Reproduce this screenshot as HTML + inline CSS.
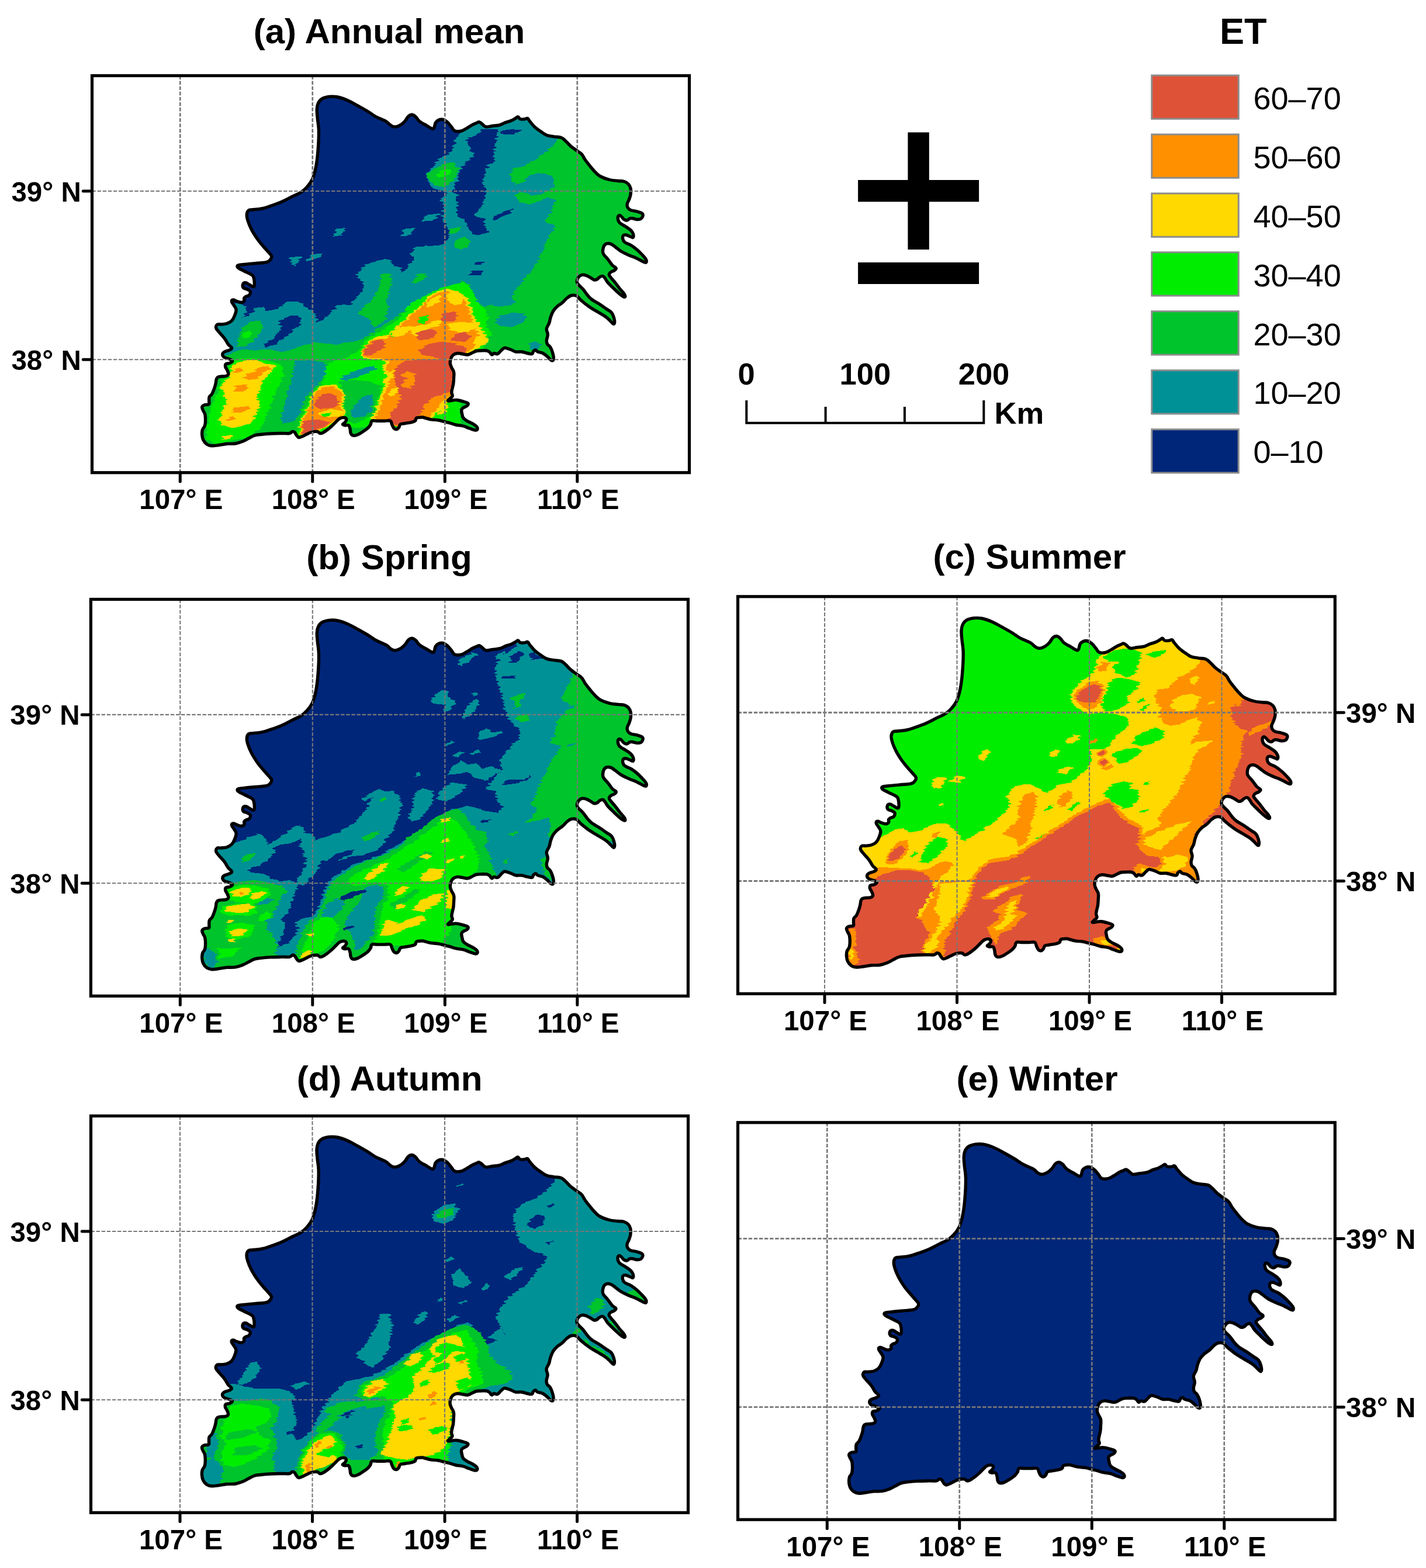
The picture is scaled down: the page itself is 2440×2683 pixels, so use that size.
<!DOCTYPE html>
<html lang="en">
<head>
<meta charset="utf-8">
<title>ET seasonal maps</title>
<style>
html,body{margin:0;padding:0;background:#fff;}
body{width:2440px;height:2683px;overflow:hidden;}
svg{display:block;}
text{font-family:"Liberation Sans", Arial, Helvetica, sans-serif;fill:#000;}
.tk{font-size:47.5px;font-weight:bold;}
.ti{font-size:60px;font-weight:bold;}
.lt{font-size:63px;font-weight:bold;}
.ll{font-size:54px;}
.sb{font-size:52.5px;font-weight:bold;}
.pm{font-size:411.9px;font-weight:normal;stroke:#000;stroke-width:6.85px;stroke-linejoin:miter;}
</style>
</head>
<body>
<svg width="2440" height="2683" viewBox="0 0 2440 2683" role="img" aria-label="Seasonal ET maps">
<defs>
<path id="outlinePath" d="M234.0,-139.5C234.2,-144.5 234.2,-145.9 235.8,-149.5C237.3,-153.1 238.2,-155.1 242.0,-157.5C245.8,-159.9 249.0,-160.8 254.5,-161.5C260.0,-162.2 263.0,-162.3 269.5,-161.0C276.0,-159.7 280.0,-158.1 287.0,-155.0C294.0,-151.9 297.5,-149.6 304.5,-145.8C311.5,-141.9 316.0,-139.4 322.0,-135.8C328.0,-132.1 328.5,-130.8 334.5,-127.5C340.5,-124.2 347.0,-122.3 352.0,-119.5C357.0,-116.7 356.5,-115.2 359.5,-113.2C362.5,-111.3 363.5,-110.0 367.0,-110.0C370.5,-110.0 373.5,-111.3 377.0,-113.2C380.5,-115.2 381.8,-116.5 384.5,-119.5C387.2,-122.5 388.2,-126.0 390.8,-128.2C393.2,-130.5 394.5,-131.0 397.0,-130.8C399.5,-130.5 400.8,-129.2 403.2,-127.0C405.8,-124.8 405.8,-122.5 409.5,-119.5C413.2,-116.5 417.8,-114.5 422.0,-112.0C426.2,-109.5 428.2,-107.8 430.8,-107.0C433.2,-106.2 433.2,-106.2 434.5,-108.2C435.8,-110.2 435.5,-114.3 437.0,-117.0C438.5,-119.7 439.5,-120.4 442.0,-121.5C444.5,-122.6 446.5,-123.2 449.5,-122.5C452.5,-121.8 454.0,-120.8 457.0,-118.2C460.0,-115.7 462.0,-112.5 464.5,-109.5C467.0,-106.5 466.5,-104.7 469.5,-103.2C472.5,-101.8 475.5,-101.8 479.5,-102.5C483.5,-103.2 485.5,-104.8 489.5,-107.0C493.5,-109.2 496.0,-111.3 499.5,-113.2C503.0,-115.2 504.5,-115.5 507.0,-116.5C509.5,-117.5 510.0,-118.7 512.0,-118.2C514.0,-117.8 514.8,-116.2 517.0,-114.5C519.2,-112.8 519.8,-110.6 523.2,-110.0C526.8,-109.4 529.8,-110.8 534.5,-111.5C539.2,-112.2 542.5,-112.0 547.0,-113.2C551.5,-114.5 553.0,-116.0 557.0,-117.5C561.0,-119.0 563.5,-119.2 567.0,-120.8C570.5,-122.2 572.2,-123.8 574.5,-125.0C576.8,-126.2 576.8,-127.3 578.2,-127.0C579.8,-126.7 579.8,-124.0 582.0,-123.2C584.2,-122.5 587.0,-123.0 589.5,-123.2C592.0,-123.5 592.8,-125.2 594.5,-124.5C596.2,-123.8 595.8,-122.5 598.2,-119.5C600.8,-116.5 603.2,-113.0 607.0,-109.5C610.8,-106.0 613.0,-104.8 617.0,-102.0C621.0,-99.2 622.5,-97.5 627.0,-95.8C631.5,-94.0 634.5,-94.1 639.5,-93.2C644.5,-92.4 648.0,-93.0 652.0,-91.5C656.0,-90.0 656.2,-88.7 659.5,-85.8C662.8,-82.8 664.5,-80.2 668.2,-77.0C672.0,-73.8 674.5,-72.2 678.2,-69.5C682.0,-66.8 684.0,-66.5 687.0,-63.2C690.0,-60.0 690.2,-57.5 693.2,-53.2C696.2,-49.0 698.5,-46.2 702.0,-42.0C705.5,-37.8 707.2,-35.4 710.8,-32.0C714.2,-28.6 714.8,-27.5 719.5,-25.0C724.2,-22.5 728.5,-21.0 734.5,-19.5C740.5,-18.0 744.5,-18.1 749.5,-17.5C754.5,-16.9 756.0,-17.6 759.5,-16.5C763.0,-15.4 764.8,-14.4 767.0,-12.0C769.2,-9.6 770.0,-8.0 770.8,-4.5C771.5,-1.0 771.2,1.8 770.8,5.5C770.2,9.2 769.4,11.0 768.2,14.2C767.1,17.5 765.5,19.0 765.0,21.8C764.5,24.5 764.6,25.9 765.8,28.0C766.9,30.1 767.5,31.1 770.8,32.5C774.0,33.9 778.0,33.8 782.0,35.0C786.0,36.2 788.9,36.9 790.8,38.5C792.6,40.1 792.0,41.2 791.5,43.0C791.0,44.8 790.1,46.4 788.2,47.5C786.4,48.6 784.8,48.6 782.0,48.5C779.2,48.4 777.0,47.1 774.5,46.8C772.0,46.4 771.5,46.1 769.5,46.8C767.5,47.4 766.5,49.6 764.5,50.0C762.5,50.4 761.5,49.9 759.5,48.5C757.5,47.1 756.2,44.4 754.5,43.0C752.8,41.6 751.9,41.0 750.8,41.8C749.6,42.5 748.8,44.2 749.0,46.8C749.2,49.2 749.4,51.5 752.0,54.2C754.6,57.0 758.2,58.0 762.0,60.5C765.8,63.0 768.1,64.2 770.8,66.8C773.4,69.2 774.1,70.5 775.0,73.0C775.9,75.5 775.9,78.2 775.0,79.2C774.1,80.2 773.1,78.8 770.8,78.0C768.4,77.2 765.8,75.4 763.2,75.0C760.8,74.6 759.4,74.7 758.2,76.0C757.1,77.3 757.0,79.5 757.5,81.8C758.0,84.0 757.9,85.2 760.8,87.5C763.6,89.8 767.8,90.4 772.0,93.0C776.2,95.6 778.2,97.2 782.0,100.5C785.8,103.8 787.8,106.0 790.8,109.2C793.8,112.5 795.6,114.2 797.0,116.8C798.4,119.2 798.0,120.8 797.5,121.8C797.0,122.8 796.6,122.5 794.5,121.8C792.4,121.0 790.0,119.5 787.0,118.0C784.0,116.5 783.5,116.0 779.5,114.2C775.5,112.5 772.0,111.5 767.0,109.2C762.0,107.0 759.0,105.8 754.5,103.0C750.0,100.2 748.0,98.0 744.5,95.5C741.0,93.0 740.0,91.6 737.0,90.5C734.0,89.4 731.9,89.2 729.5,90.0C727.1,90.8 726.2,91.9 725.0,94.2C723.8,96.6 723.4,99.0 723.2,101.8C723.1,104.5 722.8,105.0 724.5,108.0C726.2,111.0 729.0,113.0 732.0,116.8C735.0,120.5 736.8,123.8 739.5,126.8C742.2,129.8 745.0,130.0 745.8,131.8C746.5,133.5 745.0,134.2 743.2,135.5C741.5,136.8 738.9,137.0 737.0,138.5C735.1,140.0 734.0,141.1 734.0,143.0C734.0,144.9 734.9,145.2 737.0,148.0C739.1,150.8 741.5,153.0 744.5,156.8C747.5,160.5 749.0,163.0 752.0,166.8C755.0,170.5 757.6,172.8 759.5,175.5C761.4,178.2 761.8,179.5 761.5,180.5C761.2,181.5 760.1,181.4 758.2,180.5C756.4,179.6 755.2,178.8 752.0,176.0C748.8,173.2 746.0,170.6 742.0,166.8C738.0,162.9 735.0,160.2 732.0,156.8C729.0,153.2 728.8,151.5 727.0,149.2C725.2,147.0 725.0,146.0 723.2,145.5C721.5,145.0 720.2,145.7 718.2,146.8C716.2,147.8 715.2,150.0 713.2,151.0C711.2,152.0 710.5,152.3 708.2,151.8C706.0,151.2 704.8,149.5 702.0,148.0C699.2,146.5 697.5,145.2 694.5,144.2C691.5,143.3 689.8,142.7 687.0,143.5C684.2,144.3 682.4,146.1 680.8,148.5C679.1,150.9 678.8,153.1 679.0,155.5C679.2,157.9 679.9,158.0 682.0,160.5C684.1,163.0 686.5,164.5 689.5,168.0C692.5,171.5 694.0,174.5 697.0,178.0C700.0,181.5 700.5,182.5 704.5,185.5C708.5,188.5 712.0,189.8 717.0,193.0C722.0,196.2 725.2,198.8 729.5,201.8C733.8,204.8 735.6,204.8 738.2,208.0C740.9,211.2 741.5,214.5 742.5,218.0C743.5,221.5 743.6,223.8 743.2,225.5C742.9,227.2 742.5,227.8 740.8,226.8C739.0,225.8 737.2,223.0 734.5,220.5C731.8,218.0 731.0,217.0 727.0,214.2C723.0,211.5 719.5,209.8 714.5,206.8C709.5,203.8 706.5,202.2 702.0,199.2C697.5,196.2 695.5,194.5 692.0,191.8C688.5,189.0 687.2,188.0 684.5,185.5C681.8,183.0 681.2,180.7 678.2,179.2C675.2,177.8 672.8,177.8 669.5,178.5C666.2,179.2 665.0,180.6 662.0,183.0C659.0,185.4 658.0,187.5 654.5,190.5C651.0,193.5 647.8,195.0 644.5,198.0C641.2,201.0 640.4,202.0 638.2,205.5C636.1,209.0 635.4,211.5 634.0,215.5C632.6,219.5 632.9,221.5 631.5,225.5C630.1,229.5 627.5,231.5 627.0,235.5C626.5,239.5 629.0,241.5 629.0,245.5C629.0,249.5 627.1,252.2 627.0,255.5C626.9,258.8 627.0,259.5 628.2,261.8C629.5,264.0 631.5,264.0 633.2,266.8C635.0,269.5 635.9,272.0 637.0,275.5C638.1,279.0 638.8,281.5 639.0,284.2C639.2,287.0 639.1,288.2 638.2,289.2C637.4,290.2 636.5,290.5 634.5,289.2C632.5,288.0 631.0,285.4 628.2,283.0C625.5,280.6 624.0,279.1 620.8,277.5C617.5,275.9 614.5,276.1 612.0,275.0C609.5,273.9 609.8,271.9 608.2,271.8C606.8,271.6 605.8,272.9 604.5,274.2C603.2,275.6 604.0,277.9 602.0,278.5C600.0,279.1 598.0,278.2 594.5,277.5C591.0,276.8 588.5,275.5 584.5,275.0C580.5,274.5 578.0,275.6 574.5,275.0C571.0,274.4 570.0,272.9 567.0,271.8C564.0,270.6 562.0,269.9 559.5,269.2C557.0,268.6 556.5,267.9 554.5,268.5C552.5,269.1 551.8,270.5 549.5,272.5C547.2,274.5 545.8,277.5 543.2,278.5C540.8,279.5 539.0,277.2 537.0,277.5C535.0,277.8 534.8,280.4 533.2,280.0C531.8,279.6 531.2,276.9 529.5,275.5C527.8,274.1 527.5,273.5 524.5,273.0C521.5,272.5 518.0,272.9 514.5,273.0C511.0,273.1 510.0,272.8 507.0,273.5C504.0,274.2 502.5,275.4 499.5,276.8C496.5,278.1 495.5,279.6 492.0,280.0C488.5,280.4 485.5,279.0 482.0,278.5C478.5,278.0 477.5,277.1 474.5,277.5C471.5,277.9 469.2,278.6 467.0,280.5C464.8,282.4 464.2,283.9 463.2,286.8C462.2,289.6 461.8,291.4 462.0,294.5C462.2,297.6 463.2,299.0 464.5,302.0C465.8,305.0 467.5,306.0 468.2,309.5C469.0,313.0 468.4,315.5 468.2,319.5C468.1,323.5 468.0,326.0 467.5,329.5C467.0,333.0 466.4,334.0 465.8,337.0C465.1,340.0 464.5,341.8 464.5,344.5C464.5,347.2 466.5,348.5 465.8,350.8C465.0,353.0 462.2,354.1 460.8,355.8C459.2,357.4 457.5,358.5 458.2,359.0C459.0,359.5 461.5,358.6 464.5,358.2C467.5,357.9 469.2,357.1 473.2,357.5C477.2,357.9 480.6,358.9 484.5,360.0C488.4,361.1 491.2,361.8 492.5,363.2C493.8,364.8 492.4,366.0 490.8,367.5C489.1,369.0 486.4,369.4 484.5,370.8C482.6,372.1 481.9,372.2 481.5,374.5C481.1,376.8 481.9,379.2 482.5,382.0C483.1,384.8 482.9,386.0 484.5,388.2C486.1,390.5 487.5,391.2 490.8,393.2C494.0,395.2 497.4,396.2 500.8,398.2C504.1,400.2 506.0,401.2 507.5,403.2C509.0,405.2 508.9,407.1 508.2,408.2C507.6,409.4 507.2,409.5 504.5,409.0C501.8,408.5 498.5,407.1 494.5,405.8C490.5,404.4 489.0,403.1 484.5,402.0C480.0,400.9 476.5,401.0 472.0,400.0C467.5,399.0 466.0,398.1 462.0,397.0C458.0,395.9 456.0,395.5 452.0,394.5C448.0,393.5 446.5,392.8 442.0,392.0C437.5,391.2 434.5,391.6 429.5,390.8C424.5,389.9 420.0,388.2 417.0,387.5C414.0,386.8 417.0,386.9 414.5,387.0C412.0,387.1 407.0,387.0 404.5,388.2C402.0,389.5 404.0,391.8 402.0,393.2C400.0,394.8 398.0,394.9 394.5,395.8C391.0,396.6 388.0,396.9 384.5,397.5C381.0,398.1 379.0,397.7 377.0,399.0C375.0,400.3 375.8,402.3 374.5,404.0C373.2,405.7 372.5,407.1 370.8,407.5C369.0,407.9 367.4,407.4 365.8,405.8C364.1,404.1 363.8,402.0 362.5,399.5C361.2,397.0 362.1,394.5 359.5,393.2C356.9,392.0 354.0,393.2 349.5,393.2C345.0,393.2 341.2,393.2 337.0,393.2C332.8,393.2 330.5,392.0 328.2,393.2C326.0,394.5 327.2,397.0 325.8,399.5C324.2,402.0 323.5,403.2 320.8,405.8C318.0,408.2 315.5,409.8 312.0,412.0C308.5,414.2 306.5,415.8 303.2,417.0C300.0,418.2 298.0,418.8 295.8,418.2C293.5,417.8 293.0,416.8 292.0,414.5C291.0,412.2 291.5,409.8 290.8,407.0C290.0,404.2 290.0,402.0 288.2,400.8C286.5,399.5 284.0,401.1 282.0,400.8C280.0,400.4 278.2,400.0 278.2,399.0C278.2,398.0 280.8,397.4 282.0,395.8C283.2,394.1 284.8,392.4 284.5,390.8C284.2,389.1 283.0,387.9 280.8,387.5C278.5,387.1 276.0,387.6 273.2,389.0C270.5,390.4 269.8,391.9 267.0,394.5C264.2,397.1 262.5,399.2 259.5,402.0C256.5,404.8 255.0,406.0 252.0,408.2C249.0,410.5 247.0,412.0 244.5,413.2C242.0,414.5 241.5,414.9 239.5,414.5C237.5,414.1 237.5,411.9 234.5,411.5C231.5,411.1 228.0,411.6 224.5,412.5C221.0,413.4 220.0,414.4 217.0,415.8C214.0,417.1 212.2,418.4 209.5,419.5C206.8,420.6 205.2,421.8 203.2,421.5C201.2,421.2 201.0,420.1 199.5,418.2C198.0,416.4 197.2,413.9 195.8,412.5C194.2,411.1 193.8,411.1 192.0,411.5C190.2,411.9 190.5,413.9 187.0,414.5C183.5,415.1 181.0,414.4 174.5,414.5C168.0,414.6 162.0,414.6 154.5,415.0C147.0,415.4 142.5,415.9 137.0,416.5C131.5,417.1 131.0,416.9 127.0,418.2C123.0,419.6 121.0,421.2 117.0,423.2C113.0,425.2 111.5,426.5 107.0,428.2C102.5,430.0 100.0,431.1 94.5,432.0C89.0,432.9 85.0,432.0 79.5,432.5C74.0,433.0 72.0,433.9 67.0,434.5C62.0,435.1 58.8,436.0 54.5,435.8C50.2,435.5 48.8,435.2 45.8,433.2C42.8,431.2 41.1,429.0 39.5,425.8C37.9,422.5 37.8,420.5 37.5,417.0C37.2,413.5 37.4,411.2 38.2,408.2C39.1,405.2 41.0,404.8 42.0,402.0C43.0,399.2 43.1,398.5 43.2,394.5C43.4,390.5 43.2,385.8 42.5,382.0C41.8,378.2 40.5,378.2 39.5,375.8C38.5,373.2 37.0,371.5 37.5,369.5C38.0,367.5 39.7,366.6 42.0,365.8C44.3,364.9 47.5,366.2 49.0,365.0C50.5,363.8 49.3,362.1 49.5,359.5C49.7,356.9 49.0,354.5 50.0,352.0C51.0,349.5 52.9,349.8 54.5,347.0C56.1,344.2 57.0,341.8 58.2,338.2C59.5,334.8 59.9,333.0 60.8,329.5C61.6,326.0 61.2,323.1 62.5,320.8C63.8,318.4 63.9,318.4 67.0,317.5C70.2,316.6 75.2,317.4 78.2,316.5C81.3,315.6 82.0,315.1 82.5,313.2C83.0,311.4 81.8,309.5 80.8,307.0C79.8,304.5 78.0,303.0 77.5,300.8C77.0,298.5 76.8,297.0 78.2,295.8C79.7,294.5 82.2,295.5 84.5,294.5C86.8,293.5 89.5,292.1 89.5,290.8C89.5,289.4 87.2,288.8 84.5,287.5C81.8,286.2 78.2,286.1 75.8,284.5C73.3,282.9 72.5,281.4 72.5,279.5C72.5,277.6 73.3,276.5 75.8,275.0C78.2,273.5 82.0,273.4 84.5,272.0C87.0,270.6 88.8,270.3 88.2,268.2C87.8,266.2 84.5,265.1 82.0,261.8C79.5,258.4 78.8,255.8 75.8,251.8C72.8,247.8 69.8,245.2 67.0,241.8C64.2,238.2 62.2,236.9 61.5,234.2C60.8,231.6 61.6,229.8 63.2,228.5C64.8,227.2 66.2,228.3 69.5,228.0C72.8,227.7 75.8,228.0 79.5,226.8C83.2,225.5 85.5,224.5 88.2,221.8C91.0,219.0 91.8,216.8 93.2,213.0C94.8,209.2 96.0,206.5 95.8,203.0C95.5,199.5 93.5,198.2 92.0,195.5C90.5,192.8 88.5,191.2 88.2,189.2C88.0,187.3 89.0,186.2 90.8,186.0C92.5,185.8 94.2,187.6 97.0,188.5C99.8,189.4 102.0,190.6 104.5,190.5C107.0,190.4 108.5,189.5 109.5,188.0C110.5,186.5 108.8,184.6 109.5,183.0C110.2,181.4 111.5,181.0 113.2,180.0C115.0,179.0 116.9,179.7 118.2,178.0C119.6,176.3 120.8,173.8 120.0,171.8C119.2,169.8 116.8,169.2 114.5,168.0C112.2,166.8 109.7,167.2 108.2,165.5C106.8,163.8 106.8,161.0 107.5,159.2C108.2,157.5 109.8,156.6 112.0,156.8C114.2,156.9 115.8,158.7 118.2,160.0C120.8,161.3 122.8,163.4 124.5,163.5C126.2,163.6 126.8,163.6 127.0,160.5C127.2,157.4 126.8,151.5 125.8,148.0C124.8,144.5 125.2,145.2 122.0,143.0C118.8,140.8 114.1,139.2 109.5,136.8C104.9,134.3 101.0,133.0 99.0,131.0C97.0,129.0 97.4,127.8 99.5,126.8C101.6,125.7 103.5,126.2 109.5,125.5C115.5,124.8 122.0,124.2 129.5,123.5C137.0,122.8 142.2,122.8 147.0,121.8C151.8,120.8 151.3,120.5 153.2,118.5C155.2,116.5 156.8,114.3 156.5,111.8C156.2,109.2 154.9,109.0 152.0,105.5C149.1,102.0 146.0,99.0 142.0,94.2C138.0,89.5 136.0,87.5 132.0,81.8C128.0,76.0 125.2,71.8 122.0,65.5C118.8,59.2 117.3,55.5 115.8,50.5C114.2,45.5 113.8,44.0 114.0,40.5C114.2,37.0 114.9,34.8 117.0,33.0C119.1,31.2 120.0,32.4 124.5,31.8C129.0,31.1 133.5,31.2 139.5,30.0C145.5,28.8 147.5,27.9 154.5,25.5C161.5,23.1 167.0,21.2 174.5,18.0C182.0,14.8 185.5,12.5 192.0,9.2C198.5,6.0 202.0,5.0 207.0,1.8C212.0,-1.5 213.2,-2.8 217.0,-7.0C220.8,-11.2 223.0,-14.0 225.8,-19.5C228.5,-25.0 229.1,-28.0 230.8,-34.5C232.4,-41.0 233.0,-45.0 234.0,-52.0C235.0,-59.0 235.2,-62.0 235.8,-69.5C236.3,-77.0 236.8,-82.0 237.0,-89.5C237.2,-97.0 237.4,-100.0 237.0,-107.0C236.6,-114.0 235.6,-118.0 235.0,-124.5C234.4,-131.0 233.8,-134.5 234.0,-139.5Z"/>
<clipPath id="clipOutline"><use href="#outlinePath"/></clipPath>
<filter id="rough" filterUnits="userSpaceOnUse" x="-20" y="-220" width="880" height="720" color-interpolation-filters="sRGB">
<feTurbulence type="fractalNoise" baseFrequency="0.035 0.33" numOctaves="1" seed="7" result="n"/>
<feColorMatrix in="n" type="matrix" values="1 0 0 0 0  0 0 0 0 0.5  0 0 0 0 0.5  0 0 0 0 1" result="nx"/>
<feDisplacementMap in="SourceGraphic" in2="nx" scale="16" xChannelSelector="R" yChannelSelector="G"/>
</filter>
</defs>
<rect width="2440" height="2683" fill="#fff"/>
<g id="panel-a">
<g transform="translate(308.25,327.00)">
<g clip-path="url(#clipOutline)">
<rect x="0" y="-200" width="840" height="680" fill="#00267a"/>
<g filter="url(#rough)" shape-rendering="crispEdges">
<rect x="-20" y="-220" width="880" height="720" fill="#00267a"/>
<path d="M84.2,190.5 L109.2,194.2 L114.2,205.5 L105.5,216.8 L119.2,211.8 L129.2,200.5 L141.8,198.0 L149.2,205.5 L161.8,203.0 L174.2,196.8 L184.2,189.2 L196.8,188.5 L206.8,191.8 L216.8,199.2 L226.8,205.5 L234.2,215.5 L233.0,225.5 L244.2,219.2 L254.2,211.8 L261.8,203.0 L271.8,195.5 L284.2,194.2 L291.8,195.5 L298.0,184.2 L306.8,176.8 L313.0,170.5 L314.2,160.5 L309.2,151.8 L300.5,143.0 L309.2,136.8 L315.5,126.8 L325.5,121.8 L339.2,119.2 L351.8,116.0 L359.2,118.0 L366.8,128.0 L379.2,131.0 L376.8,139.2 L386.8,135.5 L391.8,124.2 L401.8,116.8 L393.0,106.8 L404.2,98.0 L419.2,92.5 L431.8,96.8 L446.8,91.8 L458.0,83.0 L461.8,73.0 L456.8,60.5 L448.0,48.0 L451.8,23.0 L446.8,13.0 L456.8,3.0 L444.2,-2.0 L431.8,-4.5 L424.2,-17.0 L419.2,-27.0 L429.2,-37.0 L436.8,-49.5 L449.2,-59.5 L459.2,-63.2 L466.8,-72.0 L470.5,-84.5 L475.5,-94.5 L476.8,-102.0 L474.2,-127.0 L900.0,-250.0 L900.0,520.0 L-50.0,520.0 L-50.0,190.0Z" fill="#009196"/>
<path d="M514.2,-105.8 L544.2,-105.8 L541.8,-94.5 L539.2,-77.0 L535.5,-59.5 L539.2,-52.0 L526.8,-44.5 L521.8,-27.0 L516.8,-12.0 L524.2,-2.0 L521.8,13.0 L516.8,23.0 L509.2,35.5 L504.2,43.0 L521.8,48.0 L519.2,58.0 L526.8,70.5 L511.8,75.5 L501.8,73.0 L491.8,60.5 L486.8,48.0 L474.2,43.0 L474.2,23.0 L474.2,8.0 L466.8,-2.0 L474.2,-17.0 L479.2,-37.0 L491.8,-52.0 L504.2,-59.5 L496.8,-69.5 L491.8,-87.0 L504.2,-94.5 L514.2,-99.5Z" fill="#00267a"/>
<path d="M531.8,48.0 L541.8,40.5 L554.2,35.5 L569.2,29.2 L564.2,38.0 L551.8,44.2 L539.2,50.5Z" fill="#00267a"/>
<path d="M546.8,-102.0 L566.8,-105.8 L581.8,-104.5 L571.8,-97.0 L554.2,-97.0Z" fill="#00267a"/>
<path d="M491.8,-92.0 L521.8,-93.2 L516.8,-84.5 L489.2,-83.2Z" fill="#00267a"/>
<path d="M496.8,136.8 L519.2,135.5 L514.2,144.2 L495.5,144.2Z" fill="#00267a"/>
<path d="M504.2,121.8 L519.2,120.5 L515.5,125.5 L503.0,126.0Z" fill="#00267a"/>
<path d="M171.8,220.5 L186.8,213.0 L201.8,213.0 L208.0,220.5 L204.2,230.5 L191.8,238.0 L184.2,248.0 L171.8,255.5 L161.8,263.0 L146.8,268.0 L144.2,263.0 L156.8,253.0 L166.8,243.0 L174.2,233.0 L169.2,225.5Z" fill="#00267a"/>
<path d="M269.2,64.2 L283.0,63.0 L276.8,75.5 L261.8,78.0Z" fill="#009196"/>
<path d="M383.0,64.2 L403.0,63.0 L389.2,76.8 L378.0,76.8Z" fill="#009196"/>
<path d="M421.8,40.5 L444.2,39.2 L431.8,50.5 L413.0,51.8Z" fill="#009196"/>
<path d="M190.5,113.0 L206.8,111.8 L196.8,129.2 L188.0,120.5Z" fill="#009196"/>
<path d="M226.8,108.0 L244.2,106.8 L234.2,115.5 L213.0,120.5Z" fill="#009196"/>
<path d="M424.2,40.5 L441.8,38.0 L429.2,50.5 L413.0,51.8Z" fill="#009196"/>
<path d="M401.8,95.5 L441.8,93.0 L431.8,105.5 L399.2,108.0Z" fill="#009196"/>
<path d="M649.2,-94.5 L641.8,-82.0 L629.2,-69.5 L616.8,-60.8 L604.2,-52.0 L589.2,-43.2 L571.8,-39.5 L564.2,-29.5 L566.8,-17.0 L576.8,-10.8 L589.2,-17.0 L599.2,-27.0 L611.8,-30.8 L626.8,-29.5 L639.2,-22.0 L641.8,-12.0 L631.8,-2.0 L616.8,5.5 L604.2,8.0 L591.8,3.0 L579.2,1.8 L571.8,9.2 L584.2,19.2 L599.2,23.0 L614.2,16.8 L629.2,10.5 L641.8,14.2 L638.0,28.0 L631.8,40.5 L623.0,53.0 L641.8,59.2 L633.0,73.0 L625.5,88.0 L620.5,103.0 L614.2,118.0 L604.2,133.0 L591.8,146.8 L581.8,159.2 L571.8,171.8 L566.8,183.0 L575.5,190.5 L561.8,195.5 L541.8,198.0 L531.8,194.2 L519.2,198.0 L509.2,190.5 L501.8,173.0 L491.8,158.0 L481.8,153.0 L466.8,165.5 L441.8,170.5 L429.2,178.0 L416.8,185.5 L391.8,198.0 L371.8,213.0 L354.2,225.5 L334.2,238.0 L316.8,250.5 L296.8,258.0 L281.8,259.2 L266.8,263.0 L246.8,260.5 L229.2,258.0 L216.8,263.0 L201.8,266.8 L186.8,273.0 L171.8,275.5 L156.8,270.5 L141.8,270.5 L126.8,273.0 L109.2,270.5 L96.8,273.0 L84.2,280.5 L59.2,280.5 L-50.0,330.0 L-50.0,520.0 L900.0,520.0 L900.0,-250.0 L620.0,-250.0Z" fill="#00c42b"/>
<path d="M196.8,290.5 L221.8,289.2 L246.8,293.0 L251.8,303.0 L246.8,315.5 L239.2,328.0 L229.2,338.0 L219.2,348.0 L209.2,360.5 L206.8,373.0 L201.8,385.5 L191.8,395.5 L176.8,398.0 L171.8,388.0 L176.8,373.0 L181.8,358.0 L184.2,343.0 L189.2,328.0 L191.8,313.0 L194.2,300.5Z" fill="#009196"/>
<path d="M274.2,320.5 L291.8,310.5 L311.8,303.0 L331.8,299.2 L334.2,305.5 L316.8,313.0 L296.8,320.5 L281.8,325.5Z" fill="#009196"/>
<path d="M309.2,353.0 L329.2,348.0 L331.8,360.5 L326.8,375.5 L314.2,385.5 L296.8,388.0 L291.8,378.0 L299.2,365.5Z" fill="#009196"/>
<path d="M546.8,213.0 L566.8,208.0 L589.2,209.2 L591.8,218.0 L581.8,228.0 L564.2,233.0 L546.8,230.5 L539.2,223.0Z" fill="#009196"/>
<path d="M596.8,260.5 L609.2,256.8 L618.0,263.0 L611.8,270.5 L599.2,270.5Z" fill="#009196"/>
<path d="M106.8,233.0 L121.8,223.0 L136.8,221.8 L141.8,230.5 L136.8,243.0 L126.8,255.5 L111.8,265.5 L96.8,265.5 L99.2,250.5Z" fill="#00c42b"/>
<path d="M344.2,141.8 L359.2,140.5 L364.2,150.5 L359.2,165.5 L354.2,183.0 L354.2,203.0 L351.8,218.0 L341.8,228.0 L329.2,233.0 L326.8,220.5 L316.8,215.5 L304.2,210.5 L314.2,198.0 L329.2,185.5 L336.8,173.0 L341.8,158.0Z" fill="#00c42b"/>
<path d="M406.8,141.8 L421.8,140.5 L414.2,150.5 L404.2,158.0 L396.8,156.8Z" fill="#00c42b"/>
<path d="M434.2,-37.0 L449.2,-47.0 L466.8,-49.5 L476.8,-39.5 L474.2,-27.0 L464.2,-14.5 L451.8,-7.0 L436.8,-9.5 L424.2,-19.5 L419.2,-27.0Z" fill="#00c42b"/>
<path d="M461.8,64.2 L476.8,60.5 L479.2,68.0 L466.8,73.0 L458.0,71.8Z" fill="#00c42b"/>
<path d="M471.8,83.0 L486.8,78.0 L496.8,85.5 L491.8,95.5 L479.2,100.5 L469.2,93.0Z" fill="#00c42b"/>
<path d="M404.2,145.5 L416.8,140.5 L421.8,145.5 L411.8,155.5 L399.2,158.0Z" fill="#00c42b"/>
<path d="M391.8,193.0 L411.8,183.0 L429.2,173.0 L446.8,165.5 L466.8,160.5 L484.2,155.5 L496.8,165.5 L504.2,180.5 L511.8,195.5 L524.2,203.0 L526.8,218.0 L521.8,233.0 L531.8,243.0 L526.8,258.0 L516.8,270.5 L504.2,280.5 L486.8,285.5 L461.8,285.5 L469.2,323.0 L466.8,350.5 L479.8,363.0 L479.8,398.0 L421.8,398.0 L346.8,400.5 L321.8,403.0 L296.8,405.5 L271.8,398.0 L246.8,413.0 L211.8,423.0 L196.8,418.0 L201.8,403.0 L206.8,388.0 L211.8,373.0 L219.2,360.5 L226.8,343.0 L241.8,333.0 L246.8,318.0 L251.8,298.0 L261.8,290.5 L284.2,285.5 L304.2,273.0 L316.8,255.5 L334.2,245.5 L354.2,233.0 L371.8,220.5 L384.2,208.0Z" fill="#00ed00"/>
<path d="M439.2,-29.5 L451.8,-37.0 L464.2,-37.0 L461.8,-29.5 L451.8,-24.5 L441.8,-24.5Z" fill="#00ed00"/>
<path d="M106.8,243.0 L119.2,239.2 L124.2,245.5 L114.2,251.8 L104.2,250.5Z" fill="#00ed00"/>
<path d="M84.2,290.5 L104.2,285.5 L126.8,285.5 L151.8,290.5 L171.8,295.5 L176.8,310.5 L171.8,328.0 L164.2,343.0 L156.8,358.0 L151.8,373.0 L146.8,388.0 L139.2,403.0 L126.8,415.5 L109.2,423.0 L84.2,428.0 L59.2,433.0 L44.2,423.0 L46.8,398.0 L51.8,373.0 L61.8,348.0 L71.8,323.0 L81.8,303.0Z" fill="#00ed00"/>
<path d="M271.8,325.5 L296.8,323.0 L321.8,325.5 L344.2,333.0 L341.8,348.0 L334.2,365.5 L331.8,380.5 L316.8,390.5 L296.8,398.0 L284.2,393.0 L281.8,378.0 L279.2,360.5 L276.8,343.0Z" fill="#00c42b"/>
<path d="M309.2,353.0 L329.2,348.0 L331.8,360.5 L326.8,375.5 L314.2,385.5 L296.8,388.0 L291.8,378.0 L299.2,365.5Z" fill="#009196"/>
<path d="M274.2,320.5 L291.8,310.5 L311.8,303.0 L331.8,299.2 L334.2,305.5 L316.8,313.0 L296.8,320.5 L281.8,325.5Z" fill="#009196"/>
<path d="M309.2,275.5 L321.8,258.0 L336.8,249.2 L354.2,245.5 L371.8,230.5 L384.2,220.5 L396.8,208.0 L411.8,195.5 L421.8,183.0 L424.2,180.5 L441.8,170.5 L456.8,166.8 L476.8,171.8 L491.8,183.0 L496.8,198.0 L501.8,213.0 L509.2,228.0 L516.8,238.0 L521.8,248.0 L524.2,258.0 L514.2,265.5 L504.2,273.0 L491.8,278.0 L479.2,283.0 L461.8,284.2 L465.5,288.0 L471.8,323.0 L466.8,348.0 L456.8,360.5 L446.8,370.5 L436.8,383.0 L426.8,395.5 L396.8,398.0 L371.8,403.0 L346.8,398.0 L326.8,395.5 L329.2,383.0 L336.8,368.0 L343.0,350.5 L349.2,335.5 L351.8,318.0 L346.8,303.0 L349.2,290.5 L341.8,288.0 L326.8,288.0 L311.8,285.5Z" fill="#ffd900"/>
<path d="M89.2,298.0 L106.8,290.5 L126.8,288.0 L146.8,295.5 L164.2,298.0 L156.8,310.5 L141.8,323.0 L136.8,338.0 L131.8,353.0 L136.8,368.0 L129.2,383.0 L121.8,395.5 L104.2,403.0 L89.2,405.5 L71.8,400.5 L66.8,388.0 L74.2,373.0 L79.2,355.5 L71.8,343.0 L71.8,330.5 L84.2,318.0 L86.8,308.0Z" fill="#ffd900"/>
<path d="M74.2,419.2 L89.2,416.8 L84.2,424.2 L71.8,426.0Z" fill="#ffd900"/>
<path d="M226.8,345.5 L244.2,333.0 L261.8,330.5 L276.8,340.5 L283.0,355.5 L276.8,368.0 L284.2,378.0 L274.2,389.2 L259.2,398.0 L241.8,409.2 L221.8,416.8 L205.5,419.2 L204.2,403.0 L209.2,388.0 L216.8,373.0 L221.8,358.0Z" fill="#ffd900"/>
<path d="M311.8,273.0 L321.8,260.5 L336.8,253.0 L351.8,253.0 L358.0,245.5 L371.8,235.5 L384.2,224.2 L396.8,211.8 L411.8,199.2 L424.2,184.2 L424.2,184.2 L441.8,174.2 L456.8,171.0 L474.2,176.0 L486.8,185.5 L491.8,198.0 L496.8,213.0 L501.8,228.0 L508.0,238.0 L511.8,248.0 L505.5,258.0 L500.5,270.5 L491.8,275.5 L479.2,280.5 L461.8,283.0 L464.2,288.0 L471.8,323.0 L466.8,348.0 L451.8,358.0 L441.8,368.0 L431.8,380.5 L421.8,394.2 L396.8,398.0 L371.8,403.0 L346.8,398.0 L333.0,395.5 L335.5,383.0 L343.0,368.0 L348.0,350.5 L355.5,335.5 L358.0,318.0 L353.0,303.0 L355.5,290.5 L344.2,285.5 L326.8,285.5 L313.0,283.0Z" fill="#ff9100"/>
<path d="M231.8,344.2 L246.8,336.0 L261.8,333.5 L274.2,343.0 L279.2,355.5 L271.8,368.0 L280.5,378.0 L271.8,387.5 L256.8,398.0 L241.8,408.0 L221.8,415.5 L207.2,418.0 L207.2,403.0 L212.2,388.0 L219.8,373.0 L224.8,358.0Z" fill="#ff9100"/>
<path d="M241.8,376.8 L261.8,373.0 L281.8,376.8 L271.8,385.5 L251.8,386.8 L236.8,384.2Z" fill="#ffd900"/>
<path d="M241.8,381.8 L259.2,379.2 L254.2,385.0 L239.2,386.0Z" fill="#00ed00"/>
<path d="M91.8,305.5 L106.8,301.8 L104.2,309.2 L89.2,311.8Z" fill="#ff9100"/>
<path d="M114.2,313.0 L131.8,308.0 L141.8,311.8 L131.8,320.5 L116.8,323.0 L109.2,319.2Z" fill="#ff9100"/>
<path d="M129.2,303.0 L151.8,299.2 L158.0,304.2 L141.8,310.5 L128.0,310.5Z" fill="#ff9100"/>
<path d="M94.2,333.0 L111.8,330.5 L118.0,336.8 L106.8,343.0 L91.8,343.0Z" fill="#ff9100"/>
<path d="M91.8,370.5 L116.8,368.0 L120.5,373.0 L104.2,378.5 L88.0,378.5Z" fill="#ff9100"/>
<path d="M83.0,386.8 L94.2,385.0 L91.8,391.8 L81.2,393.5Z" fill="#ff9100"/>
<path d="M454.2,175.5 L474.2,173.0 L485.5,183.0 L481.8,193.0 L466.8,195.5 L459.2,188.0Z" fill="#ffd900"/>
<path d="M391.8,233.0 L414.2,228.0 L429.2,233.0 L419.2,245.5 L399.2,248.0Z" fill="#ffd900"/>
<path d="M429.2,223.0 L449.2,220.5 L444.2,230.5 L429.2,233.0Z" fill="#ffd900"/>
<path d="M411.8,233.0 L426.8,225.5 L434.2,230.5 L424.2,240.5 L411.8,240.5Z" fill="#ffd900"/>
<path d="M409.2,215.5 L421.8,211.8 L424.2,220.5 L414.2,228.0 L406.8,225.5Z" fill="#00ed00"/>
<path d="M356.8,245.5 L369.2,235.5 L374.2,243.0 L364.2,250.5Z" fill="#00ed00"/>
<path d="M362.2,240.2 L375.2,232.8 L391.9,230.9 L395.6,236.5 L384.5,245.7 L369.7,249.5 L360.4,247.6Z" fill="#ffd900"/>
<path d="M458.7,227.2 L477.2,223.5 L495.8,225.3 L514.3,223.5 L510.6,232.8 L495.8,240.2 L477.2,242.0 L462.4,238.3Z" fill="#ffd900"/>
<path d="M505.1,249.5 L519.9,245.7 L529.2,251.3 L523.6,262.4 L510.6,266.2 L501.4,260.6Z" fill="#ffd900"/>
<path d="M421.6,190.1 L436.4,180.8 L449.4,177.1 L445.7,186.4 L432.7,195.7 L421.6,199.4Z" fill="#ffd900"/>
<path d="M353.0,312.5 L365.9,305.1 L362.2,319.9 L354.8,331.1 L347.4,329.2Z" fill="#ffd900"/>
<path d="M362.2,338.5 L373.4,334.8 L371.5,345.9 L362.2,351.5 L356.7,347.8Z" fill="#ffd900"/>
<path d="M445.7,362.6 L455.0,357.0 L458.7,368.2 L451.3,381.2 L442.0,383.0Z" fill="#ffd900"/>
<path d="M371.8,298.0 L386.8,290.5 L411.8,288.0 L446.8,288.0 L464.2,290.5 L466.8,323.0 L464.2,343.0 L446.8,348.0 L431.8,353.0 L421.8,363.0 L416.8,373.0 L406.8,383.0 L401.8,395.5 L371.8,400.5 L356.8,395.5 L359.2,380.5 L371.8,368.0 L376.8,353.0 L371.8,338.0 L366.8,323.0 L366.8,310.5Z" fill="#de5238"/>
<path d="M376.8,313.0 L391.8,308.0 L401.8,313.0 L401.8,328.0 L391.8,338.0 L379.2,335.5 L381.8,325.5 L389.2,320.5 L381.8,318.0Z" fill="#ff9100"/>
<path d="M329.2,258.0 L346.8,253.0 L351.8,263.0 L341.8,273.0 L326.8,280.5 L314.2,280.5 L316.8,270.5Z" fill="#de5238"/>
<path d="M404.2,243.0 L421.8,238.0 L434.2,243.0 L426.8,253.0 L406.8,255.5Z" fill="#de5238"/>
<path d="M426.8,265.5 L446.8,258.0 L471.8,260.5 L479.8,273.0 L471.8,285.5 L446.8,288.0 L426.8,280.5Z" fill="#de5238"/>
<path d="M446.8,210.5 L466.8,205.5 L476.8,213.0 L466.8,223.0 L449.2,223.0Z" fill="#de5238"/>
<path d="M404.2,243.0 L424.2,235.5 L441.8,240.5 L434.2,250.5 L411.8,253.0Z" fill="#de5238"/>
<path d="M466.8,245.5 L486.8,240.5 L499.2,248.0 L486.8,258.0 L466.8,255.5Z" fill="#de5238"/>
<path d="M421.8,263.0 L441.8,258.0 L466.8,260.5 L491.8,268.0 L486.8,278.0 L466.8,285.5 L441.8,285.5 L416.8,280.5 L406.8,273.0Z" fill="#de5238"/>
<path d="M234.2,353.0 L251.8,345.5 L269.2,350.5 L271.8,363.0 L261.8,370.5 L241.8,373.0 L229.2,368.0Z" fill="#de5238"/>
<path d="M211.8,393.0 L234.2,390.5 L256.8,395.5 L241.8,405.5 L221.8,413.0 L208.0,415.5Z" fill="#de5238"/>
</g>
</g>
<use href="#outlinePath" fill="none" stroke="#000" stroke-width="5.4" stroke-linejoin="round"/>
</g>
<path d="M308.25,129.50V808.70M534.75,129.50V808.70M761.25,129.50V808.70M987.75,129.50V808.70" fill="none" stroke="#777" stroke-width="2.7" stroke-dasharray="6.4 2.7"/>
<path d="M157.50,327.00H1179.50M157.50,615.30H1179.50" fill="none" stroke="#777" stroke-width="2.1" stroke-dasharray="6.4 2.7"/>
<rect x="157.50" y="129.50" width="1022.00" height="679.20" fill="none" stroke="#000" stroke-width="5.2"/>
<path d="M308.25,808.70v15.2M534.75,808.70v15.2M761.25,808.70v15.2M987.75,808.70v15.2M157.50,327.00h-15.2M157.50,615.30h-15.2" fill="none" stroke="#000" stroke-width="5" stroke-linecap="round"/>
<text x="309.8" y="871.1" text-anchor="middle" class="tk">107° E</text>
<text x="536.2" y="871.1" text-anchor="middle" class="tk">108° E</text>
<text x="762.8" y="871.1" text-anchor="middle" class="tk">109° E</text>
<text x="989.2" y="871.1" text-anchor="middle" class="tk">110° E</text>
<text x="138.8" y="344.5" text-anchor="end" class="tk">39° N</text>
<text x="138.8" y="632.8" text-anchor="end" class="tk">38° N</text>
<text x="666.0" y="73.5" text-anchor="middle" class="ti">(a) Annual mean</text>
</g>
<g id="panel-b">
<g transform="translate(308.30,1222.90)">
<g clip-path="url(#clipOutline)">
<rect x="0" y="-200" width="840" height="680" fill="#00267a"/>
<g filter="url(#rough)" shape-rendering="crispEdges">
<rect x="-20" y="-220" width="880" height="720" fill="#00267a"/>
<path d="M46.7,230.6 L64.2,230.6 L84.2,223.1 L104.2,215.6 L121.7,208.1 L134.2,203.1 L144.2,209.3 L151.7,223.1 L171.7,209.3 L191.7,194.3 L201.7,189.3 L212.9,195.6 L214.2,203.1 L205.4,213.1 L194.2,218.1 L176.7,221.8 L161.7,225.6 L161.7,235.6 L151.7,248.1 L134.2,258.1 L112.9,266.8 L126.7,270.6 L146.7,273.1 L156.7,280.6 L171.7,285.6 L186.7,283.1 L201.7,290.6 L196.7,303.1 L191.7,318.1 L186.7,333.1 L181.7,343.1 L171.7,350.6 L181.7,358.1 L176.7,373.1 L169.2,388.1 L166.7,398.1 L184.2,390.6 L196.7,378.1 L201.7,365.6 L196.7,355.6 L211.7,348.1 L226.7,345.6 L236.7,333.1 L241.7,318.1 L246.7,303.1 L251.7,290.6 L261.7,278.1 L281.7,265.6 L296.7,255.6 L321.7,248.1 L346.7,238.1 L371.7,223.1 L396.7,208.1 L421.7,190.6 L446.7,173.1 L466.7,160.6 L476.7,160.6 L491.7,155.6 L516.7,163.1 L541.7,168.1 L551.7,158.1 L541.7,145.6 L539.2,130.6 L521.7,128.1 L531.7,115.6 L541.7,103.1 L551.7,93.1 L546.7,78.1 L556.7,65.6 L566.7,53.1 L579.2,40.6 L581.7,28.1 L571.7,18.1 L561.7,8.1 L556.7,-6.9 L551.7,-21.9 L549.2,-36.9 L544.2,-51.9 L539.2,-66.9 L539.2,-81.9 L546.7,-96.9 L561.7,-106.9 L574.2,-116.9 L576.7,-139.4 L900.0,-250.0 L900.0,520.0 L-50.0,520.0 L-50.0,230.0Z" fill="#009196"/>
<path d="M341.7,131.8 L361.7,130.1 L375.4,139.3 L377.9,155.6 L374.2,173.1 L369.2,185.6 L361.7,200.6 L351.7,213.1 L344.2,225.6 L329.2,235.6 L309.2,240.6 L291.7,243.1 L271.7,249.3 L256.7,251.8 L239.2,248.1 L229.2,238.1 L226.7,223.1 L236.7,213.1 L251.7,208.1 L266.7,203.1 L281.7,195.6 L296.7,185.6 L309.2,173.1 L319.2,160.6 L324.2,148.1 L331.7,138.1Z" fill="#009196"/>
<path d="M211.2,201.2 L226.1,204.9 L237.2,221.6 L235.3,238.3 L244.6,247.6 L237.2,260.6 L229.8,273.6 L218.6,284.7 L207.5,292.1 L196.4,288.4 L203.8,277.3 L211.2,264.3 L214.9,251.3 L211.2,238.3 L205.7,225.3 L207.5,212.3Z" fill="#009196"/>
<path d="M248.3,251.3 L265.0,240.2 L283.6,232.7 L300.3,230.9 L292.8,238.3 L274.3,245.7 L257.6,255.0Z" fill="#00267a"/>
<path d="M309.2,145.6 L321.7,135.6 L344.2,126.8 L346.7,130.6 L329.2,140.6 L314.2,148.1Z" fill="#009196"/>
<path d="M406.7,130.6 L421.7,126.8 L434.2,135.6 L431.7,150.6 L421.7,165.6 L409.2,178.1 L396.7,183.1 L389.2,175.6 L396.7,163.1 L401.7,148.1Z" fill="#009196"/>
<path d="M404.2,99.3 L411.7,98.1 L409.2,104.3 L402.9,105.6Z" fill="#009196"/>
<path d="M429.2,-26.9 L446.7,-41.9 L459.2,-40.7 L456.7,-31.9 L471.7,-21.9 L461.7,-6.9 L449.2,-4.4 L454.2,-16.9 L431.7,-19.4Z" fill="#009196"/>
<path d="M491.7,-16.9 L504.2,-26.9 L511.7,-24.4 L506.7,-6.9 L491.7,3.1 L481.7,8.1 L486.7,-4.4Z" fill="#009196"/>
<path d="M511.7,28.1 L526.7,23.1 L531.7,30.6 L554.2,28.1 L541.7,35.6 L526.7,40.6 L511.7,43.1Z" fill="#009196"/>
<path d="M464.2,70.6 L476.7,63.1 L486.7,64.3 L474.2,73.1Z" fill="#009196"/>
<path d="M496.7,66.8 L511.7,59.3 L514.2,63.1 L501.7,69.3Z" fill="#009196"/>
<path d="M454.2,50.6 L466.7,44.3 L469.2,46.8 L456.7,54.3Z" fill="#009196"/>
<path d="M466.7,88.1 L481.7,78.1 L491.7,85.6 L506.7,83.1 L516.7,93.1 L531.7,88.1 L551.7,95.6 L531.7,105.6 L521.7,113.1 L506.7,108.1 L491.7,98.1 L476.7,100.6 L456.7,103.1Z" fill="#009196"/>
<path d="M444.2,130.6 L464.2,115.6 L491.7,120.6 L476.7,135.6 L456.7,148.1 L441.7,145.6Z" fill="#009196"/>
<path d="M401.7,135.6 L414.2,125.6 L431.7,130.6 L426.7,145.6 L406.7,155.6 L396.7,150.6Z" fill="#009196"/>
<path d="M476.7,-94.4 L501.7,-106.9 L509.2,-101.9 L491.7,-89.4 L479.2,-83.2Z" fill="#009196"/>
<path d="M539.2,-101.9 L556.7,-109.4 L554.2,-99.4 L541.7,-94.4Z" fill="#009196"/>
<path d="M402.9,100.6 L410.4,98.1 L409.2,104.3 L401.7,106.8Z" fill="#009196"/>
<path d="M499.2,-36.9 L509.2,-38.2 L506.7,-33.2 L497.9,-31.9Z" fill="#009196"/>
<path d="M551.7,-65.7 L574.2,-66.9 L570.5,-61.9 L550.5,-61.4Z" fill="#00267a"/>
<path d="M551.7,115.6 L566.7,110.6 L586.7,110.6 L604.2,101.8 L591.7,113.1 L571.7,118.1 L554.2,120.6Z" fill="#00267a"/>
<path d="M596.7,-104.4 L606.7,-106.9 L619.2,-96.9 L601.7,-93.2Z" fill="#00267a"/>
<path d="M566.7,-101.9 L581.7,-109.4 L586.7,-101.9 L576.7,-89.4 L564.2,-89.4Z" fill="#00267a"/>
<path d="M516.7,180.6 L531.7,179.3 L528.0,184.3 L515.5,184.8Z" fill="#00267a"/>
<path d="M161.7,248.1 L181.7,235.6 L201.7,233.1 L196.7,245.6 L176.7,253.1 L161.7,258.1Z" fill="#00267a"/>
<path d="M671.7,-71.9 L661.7,-46.9 L651.7,-26.9 L666.7,-16.9 L656.7,-1.9 L644.2,13.1 L641.7,30.6 L634.2,48.1 L651.7,53.1 L641.7,68.1 L631.7,85.6 L624.2,103.1 L616.7,118.1 L609.2,135.6 L599.2,153.1 L611.7,160.6 L601.7,175.6 L589.2,185.6 L611.7,180.6 L631.7,175.6 L634.2,190.6 L629.2,208.1 L666.7,223.1 L900.0,200.0 L900.0,-250.0 L790.0,-250.0Z" fill="#00c42b"/>
<path d="M616.7,248.1 L626.7,240.6 L629.2,263.1 L639.2,288.1 L624.2,273.1Z" fill="#00c42b"/>
<path d="M564.2,-26.9 L576.7,-34.4 L591.7,-36.9 L584.2,-26.9 L581.7,-14.4 L571.7,-9.4 L574.2,-21.9Z" fill="#00c42b"/>
<path d="M574.2,3.1 L591.7,-1.9 L599.2,8.1 L586.7,13.1 L576.7,10.6Z" fill="#00c42b"/>
<path d="M561.7,205.6 L574.2,198.1 L576.7,203.1 L566.7,208.1Z" fill="#00c42b"/>
<path d="M549.2,253.1 L561.7,245.6 L556.7,255.6Z" fill="#00c42b"/>
<path d="M656.7,-11.9 L676.7,-16.9 L674.2,-11.9 L654.2,-6.9Z" fill="#009196"/>
<path d="M664.2,50.6 L676.7,48.1 L674.2,53.1 L661.7,54.3Z" fill="#009196"/>
<path d="M541.7,298.1 L541.7,275.6 L539.2,270.6 L534.2,258.1 L529.2,243.1 L521.7,228.1 L526.7,213.1 L524.2,200.6 L509.2,198.1 L496.7,185.6 L486.7,170.6 L474.2,160.6 L456.7,165.6 L441.7,173.1 L426.7,183.1 L411.7,195.6 L391.7,208.1 L376.7,225.6 L356.7,235.6 L336.7,245.6 L316.7,250.6 L296.7,260.6 L281.7,270.6 L266.7,280.6 L256.7,290.6 L251.7,303.1 L246.7,318.1 L241.7,333.1 L234.2,345.6 L221.7,353.1 L211.7,363.1 L206.7,378.1 L201.7,393.1 L196.7,408.1 L194.2,448.1 L600.0,520.0Z" fill="#00c42b"/>
<path d="M59.2,290.6 L84.2,288.1 L104.2,285.6 L126.7,283.1 L146.7,285.6 L161.7,290.6 L176.7,293.1 L181.7,303.1 L171.7,313.1 L166.7,325.6 L161.7,338.1 L156.7,350.6 L161.7,360.6 L156.7,373.1 L161.7,383.1 L166.7,395.6 L164.2,405.6 L161.7,448.1 L21.7,448.1 L21.7,290.6Z" fill="#00c42b"/>
<path d="M104.2,245.6 L116.7,238.1 L129.2,236.8 L121.7,248.1 L106.7,253.1Z" fill="#00c42b"/>
<path d="M309.2,210.6 L326.7,203.1 L344.2,198.1 L334.2,209.3 L316.7,216.8Z" fill="#00c42b"/>
<path d="M341.7,145.6 L351.7,140.6 L354.2,145.6 L344.2,149.3Z" fill="#00c42b"/>
<path d="M36.7,405.6 L49.2,398.1 L59.2,408.1 L64.2,423.1 L56.7,433.1 L44.2,433.1Z" fill="#009196"/>
<path d="M316.7,295.6 L336.7,290.6 L349.2,298.1 L346.7,313.1 L336.7,325.6 L331.7,338.1 L334.2,353.1 L331.7,370.6 L321.7,385.6 L309.2,400.6 L296.7,403.1 L299.2,388.1 L291.7,373.1 L281.7,360.6 L286.7,345.6 L296.7,333.1 L306.7,320.6 L311.7,308.1Z" fill="#009196"/>
<path d="M251.7,323.1 L271.7,313.1 L281.7,323.1 L271.7,338.1 L256.7,348.1 L241.7,348.1Z" fill="#009196"/>
<path d="M274.2,313.1 L291.7,303.1 L316.7,299.3 L321.7,301.8 L301.7,309.3 L281.7,318.1Z" fill="#00267a"/>
<path d="M276.7,365.6 L291.7,360.6 L296.7,363.1 L281.7,369.3Z" fill="#00267a"/>
<path d="M131.7,318.1 L151.7,313.1 L161.7,316.8 L146.7,324.3 L131.7,325.6Z" fill="#009196"/>
<path d="M146.7,350.6 L161.7,345.6 L169.2,355.6 L161.7,370.6 L149.2,373.1Z" fill="#009196"/>
<path d="M456.7,175.6 L431.7,193.1 L411.7,208.1 L391.7,223.1 L371.7,235.6 L351.7,248.1 L331.7,258.1 L311.7,265.6 L296.7,273.1 L286.7,285.6 L296.7,293.1 L316.7,290.6 L336.7,285.6 L354.2,293.1 L356.7,308.1 L349.2,323.1 L344.2,338.1 L341.7,353.1 L339.2,368.1 L334.2,383.1 L329.2,395.6 L346.7,393.1 L371.7,395.6 L396.7,393.1 L421.7,388.1 L446.7,390.6 L461.7,373.1 L469.2,348.1 L471.7,323.1 L466.7,298.1 L479.7,288.1 L496.7,283.1 L509.2,263.1 L511.7,243.1 L501.7,223.1 L489.2,203.1 L476.7,185.6 L466.7,180.6Z" fill="#00ed00"/>
<path d="M226.7,355.6 L246.7,345.6 L261.7,348.1 L271.7,360.6 L266.7,378.1 L256.7,393.1 L241.7,405.6 L221.7,415.6 L204.2,418.1 L209.2,403.1 L216.7,385.6 L221.7,370.6Z" fill="#00ed00"/>
<path d="M81.7,298.1 L106.7,290.6 L131.7,293.1 L151.7,298.1 L156.7,308.1 L141.7,318.1 L121.7,323.1 L96.7,320.6 L76.7,313.1Z" fill="#00ed00"/>
<path d="M71.7,328.1 L96.7,323.1 L126.7,323.1 L131.7,338.1 L116.7,345.6 L91.7,345.6 L71.7,340.6Z" fill="#00ed00"/>
<path d="M79.2,360.6 L104.2,355.6 L126.7,360.6 L121.7,378.1 L96.7,385.6 L79.2,380.6Z" fill="#00ed00"/>
<path d="M64.2,398.1 L86.7,390.6 L104.2,398.1 L91.7,413.1 L66.7,418.1Z" fill="#00ed00"/>
<path d="M136.7,343.1 L151.7,335.6 L156.7,343.1 L146.7,353.1 L134.2,353.1Z" fill="#00ed00"/>
<path d="M371.7,263.1 L396.7,248.1 L421.7,233.1 L431.7,235.6 L406.7,253.1 L381.7,270.6Z" fill="#00c42b"/>
<path d="M359.2,323.1 L384.2,310.6 L401.7,298.1 L411.7,300.6 L389.2,318.1 L366.7,333.1Z" fill="#00c42b"/>
<path d="M71.7,345.6 L96.7,343.1 L126.7,344.3 L121.7,350.6 L91.7,353.1 L69.2,354.3Z" fill="#00c42b"/>
<path d="M64.2,388.1 L86.7,391.8 L116.7,390.6 L106.7,398.1 L76.7,400.6 L61.7,398.1Z" fill="#00c42b"/>
<path d="M314.2,280.6 L326.7,268.1 L344.2,255.6 L356.7,253.1 L349.2,265.6 L334.2,278.1 L321.7,284.3Z" fill="#ffd900"/>
<path d="M414.2,273.1 L426.7,263.1 L451.7,264.3 L446.7,278.1 L431.7,285.6 L411.7,284.3Z" fill="#ffd900"/>
<path d="M409.2,243.1 L421.7,238.1 L431.7,240.6 L421.7,248.1Z" fill="#ffd900"/>
<path d="M446.7,179.3 L459.2,175.6 L460.4,181.8 L449.2,184.3Z" fill="#ffd900"/>
<path d="M446.7,214.3 L459.2,210.6 L461.7,216.8 L449.2,219.3Z" fill="#ffd900"/>
<path d="M456.7,300.6 L466.7,298.1 L469.2,323.1 L464.2,333.1 L454.2,330.6Z" fill="#ffd900"/>
<path d="M396.7,333.1 L411.7,318.1 L431.7,308.1 L451.7,305.6 L446.7,318.1 L431.7,328.1 L414.2,338.1Z" fill="#ffd900"/>
<path d="M371.7,298.1 L381.7,293.1 L391.7,295.6 L376.7,308.1 L366.7,310.6Z" fill="#ffd900"/>
<path d="M369.2,325.6 L381.7,323.1 L384.2,330.6 L371.7,333.1Z" fill="#ffd900"/>
<path d="M349.2,353.1 L361.7,350.6 L371.7,358.1 L389.2,350.6 L411.7,343.1 L421.7,348.1 L406.7,360.6 L386.7,365.6 L371.7,373.1 L356.7,378.1 L341.7,378.1 L346.7,365.6Z" fill="#ffd900"/>
<path d="M86.7,303.1 L104.2,295.6 L121.7,296.8 L116.7,308.1 L101.7,311.8 L89.2,310.6Z" fill="#ffd900"/>
<path d="M121.7,305.6 L139.2,301.8 L149.2,305.6 L134.2,314.3 L121.7,316.8Z" fill="#ffd900"/>
<path d="M79.2,328.1 L96.7,325.6 L116.7,323.1 L126.7,328.1 L116.7,338.1 L96.7,339.3 L79.2,336.8Z" fill="#ffd900"/>
<path d="M84.2,370.6 L104.2,365.6 L116.7,368.1 L106.7,378.1 L86.7,379.3Z" fill="#ffd900"/>
<path d="M82.9,384.3 L95.4,383.1 L92.9,388.6 L81.7,389.3Z" fill="#ffd900"/>
<path d="M206.7,408.1 L219.2,403.1 L225.4,405.6 L216.7,414.3 L206.7,416.8Z" fill="#ffd900"/>
<path d="M217.9,375.1 L229.2,374.3 L227.9,378.6 L217.9,379.3Z" fill="#ffd900"/>
<path d="M81.7,351.8 L90.4,350.6 L89.2,355.6 L80.4,356.8Z" fill="#ffd900"/>
<path d="M456.7,248.1 L464.2,245.6 L462.9,253.1 L455.4,254.3Z" fill="#ffd900"/>
<path d="M456.7,248.1 L466.7,245.6 L464.2,253.1 L455.4,254.3Z" fill="#ffd900"/>
<path d="M479.2,241.8 L486.7,240.6 L484.2,245.6 L477.9,246.1Z" fill="#ffd900"/>
<path d="M99.2,305.6 L107.9,303.1 L106.7,306.8 L99.7,308.6Z" fill="#ff9100"/>
</g>
</g>
<use href="#outlinePath" fill="none" stroke="#000" stroke-width="5.4" stroke-linejoin="round"/>
</g>
<path d="M308.30,1025.50V1704.30M534.80,1025.50V1704.30M761.30,1025.50V1704.30M987.80,1025.50V1704.30" fill="none" stroke="#777" stroke-width="2.1" stroke-dasharray="6.4 2.7"/>
<path d="M155.40,1222.90H1177.40M155.40,1511.20H1177.40" fill="none" stroke="#777" stroke-width="2.1" stroke-dasharray="6.4 2.7"/>
<rect x="155.40" y="1025.50" width="1022.00" height="678.80" fill="none" stroke="#000" stroke-width="5.2"/>
<path d="M308.30,1704.30v15.2M534.80,1704.30v15.2M761.30,1704.30v15.2M987.80,1704.30v15.2M155.40,1222.90h-15.2M155.40,1511.20h-15.2" fill="none" stroke="#000" stroke-width="5" stroke-linecap="round"/>
<text x="309.8" y="1766.7" text-anchor="middle" class="tk">107° E</text>
<text x="536.3" y="1766.7" text-anchor="middle" class="tk">108° E</text>
<text x="762.8" y="1766.7" text-anchor="middle" class="tk">109° E</text>
<text x="989.3" y="1766.7" text-anchor="middle" class="tk">110° E</text>
<text x="136.7" y="1240.4" text-anchor="end" class="tk">39° N</text>
<text x="136.7" y="1528.7" text-anchor="end" class="tk">38° N</text>
<text x="666.0" y="973.7" text-anchor="middle" class="ti">(b) Spring</text>
</g>
<g id="panel-c">
<g transform="translate(1411.00,1219.25)">
<g clip-path="url(#clipOutline)">
<rect x="0" y="-200" width="840" height="680" fill="#00ed00"/>
<g filter="url(#rough)" shape-rendering="crispEdges">
<rect x="-20" y="-220" width="880" height="720" fill="#00ed00"/>
<path d="M72.0,212.8 L97.0,212.8 L107.0,207.8 L122.0,200.2 L134.5,197.8 L147.0,205.2 L162.0,202.8 L177.0,195.2 L192.0,190.2 L207.0,190.2 L219.5,197.8 L229.5,207.8 L237.0,220.2 L247.0,215.2 L259.5,207.8 L272.0,200.2 L287.0,190.2 L297.0,180.2 L307.0,172.8 L314.5,162.8 L317.0,150.2 L309.5,145.2 L317.0,135.2 L327.0,125.2 L342.0,122.8 L354.5,122.8 L367.0,130.2 L379.5,137.8 L392.0,130.2 L402.0,122.8 L417.0,120.2 L427.0,115.2 L437.0,107.8 L447.0,97.8 L457.0,82.8 L454.5,62.8 L452.0,2.8 L432.0,-7.2 L419.5,-22.2 L424.5,-37.2 L437.0,-52.2 L452.0,-62.2 L462.0,-72.2 L467.0,-89.8 L472.0,-102.2 L472.0,-139.8 L900.0,-250.0 L900.0,520.0 L-50.0,520.0 L-50.0,215.0Z" fill="#ffd900"/>
<path d="M182.0,120.2 L194.5,110.2 L207.0,111.5 L202.0,122.8 L187.0,130.2Z" fill="#ffd900"/>
<path d="M212.0,117.8 L227.0,107.8 L239.5,110.2 L227.0,120.2Z" fill="#ffd900"/>
<path d="M197.0,156.5 L202.0,154.8 L200.8,159.0 L195.8,159.8Z" fill="#ffd900"/>
<path d="M262.0,80.2 L272.0,72.8 L279.5,75.2 L269.5,82.8Z" fill="#ffd900"/>
<path d="M397.0,102.8 L412.0,92.8 L422.0,95.2 L412.0,105.2Z" fill="#ffd900"/>
<path d="M263.0,75.6 L275.6,63.0 L284.0,65.1 L277.7,77.7 L265.1,81.9Z" fill="#ffd900"/>
<path d="M380.7,73.5 L393.3,63.0 L403.8,65.1 L393.3,76.4Z" fill="#ffd900"/>
<path d="M414.3,48.3 L426.9,37.8 L437.4,39.9 L426.9,51.2Z" fill="#ffd900"/>
<path d="M187.4,128.1 L195.8,113.4 L205.1,115.5 L200.0,130.2Z" fill="#ffd900"/>
<path d="M216.8,117.6 L229.4,109.2 L238.7,111.3 L229.4,119.7Z" fill="#ffd900"/>
<path d="M401.7,102.9 L414.3,92.4 L423.5,94.5 L412.2,105.8Z" fill="#ffd900"/>
<path d="M197.9,157.5 L203.4,154.6 L202.1,159.6Z" fill="#ffd900"/>
<path d="M474.5,-94.8 L492.0,-104.8 L512.0,-109.8 L532.0,-107.2 L542.0,-102.2 L537.0,-82.2 L532.0,-67.2 L517.0,-59.8 L499.5,-67.2 L492.0,-77.2 L502.0,-87.2 L487.0,-87.2Z" fill="#00ed00"/>
<path d="M487.0,-52.2 L502.0,-59.8 L522.0,-57.2 L539.5,-52.2 L532.0,-37.2 L517.0,-27.2 L522.0,-17.2 L507.0,-7.2 L492.0,-2.2 L477.0,-2.2 L474.5,-17.2 L482.0,-34.8Z" fill="#00ed00"/>
<path d="M452.0,2.8 L477.0,0.2 L497.0,2.8 L517.0,7.8 L522.0,17.8 L512.0,30.2 L497.0,42.8 L487.0,57.8 L472.0,62.8 L454.5,62.8Z" fill="#00ed00"/>
<path d="M532.0,40.2 L547.0,32.8 L567.0,25.2 L582.0,32.8 L577.0,45.2 L562.0,52.8 L542.0,57.8 L527.0,52.8Z" fill="#00ed00"/>
<path d="M492.0,70.2 L512.0,62.8 L532.0,60.2 L544.5,65.2 L532.0,75.2 L517.0,85.2 L502.0,87.8Z" fill="#00ed00"/>
<path d="M492.0,122.8 L512.0,117.8 L524.5,120.2 L522.0,130.2 L537.0,132.8 L537.0,147.8 L527.0,160.2 L512.0,165.2 L497.0,155.2 L482.0,145.2 L477.0,137.8Z" fill="#00ed00"/>
<path d="M544.5,121.5 L557.0,117.8 L554.5,122.8 L542.0,124.0Z" fill="#00ed00"/>
<path d="M539.5,167.8 L552.0,165.2 L549.5,170.2 L538.2,171.0Z" fill="#00ed00"/>
<path d="M540.8,-4.8 L552.0,-14.8 L555.8,-12.2 L544.5,-2.2Z" fill="#00ed00"/>
<path d="M552.0,-99.8 L567.0,-104.8 L582.0,-107.2 L577.0,-97.2 L562.0,-93.5Z" fill="#00ed00"/>
<path d="M534.5,-19.8 L544.5,-24.8 L547.0,-21.0 L537.0,-16.0Z" fill="#00ed00"/>
<path d="M177.0,222.8 L192.0,212.8 L207.0,215.2 L212.0,225.2 L202.0,235.2 L192.0,247.8 L177.0,257.8 L162.0,255.2 L167.0,242.8 L172.0,232.8Z" fill="#00ed00"/>
<path d="M147.0,245.2 L157.0,237.8 L160.8,240.2 L150.8,247.8Z" fill="#00ed00"/>
<path d="M342.0,235.2 L357.0,225.2 L360.8,227.8 L347.0,237.8Z" fill="#00ed00"/>
<path d="M362.0,215.2 L377.0,207.8 L379.5,211.5 L365.8,219.0Z" fill="#00ed00"/>
<path d="M377.0,165.2 L389.5,157.8 L392.0,161.5 L379.5,169.0Z" fill="#00ed00"/>
<path d="M417.0,165.2 L432.0,152.8 L437.0,155.2 L422.0,169.0Z" fill="#00ed00"/>
<path d="M412.0,47.8 L424.5,40.2 L437.0,42.8 L424.5,52.8 L413.2,53.2Z" fill="#ffd900"/>
<path d="M397.0,102.8 L407.0,94.0 L419.5,95.2 L409.5,105.2Z" fill="#ffd900"/>
<path d="M642.0,-102.2 L642.0,-84.8 L632.0,-74.8 L617.0,-64.8 L604.5,-59.8 L597.0,-49.8 L587.0,-42.2 L572.0,-39.8 L564.5,-29.8 L567.0,-17.2 L577.0,-7.2 L572.0,7.8 L582.0,17.8 L592.0,22.8 L607.0,20.2 L622.0,12.8 L637.0,7.8 L644.5,17.8 L639.5,32.8 L632.0,42.8 L624.5,55.2 L642.0,57.8 L634.5,70.2 L629.5,82.8 L624.5,97.8 L617.0,112.8 L609.5,127.8 L599.5,142.8 L587.0,157.8 L577.0,170.2 L569.5,182.8 L577.0,190.2 L567.0,197.8 L552.0,202.8 L542.0,212.8 L537.0,222.8 L532.0,247.8 L527.0,297.8 L900.0,520.0 L900.0,-250.0Z" fill="#ff9100"/>
<path d="M597.0,-22.2 L612.0,-29.8 L629.5,-32.2 L642.0,-27.2 L639.5,-14.8 L632.0,-4.8 L617.0,-2.2 L602.0,-2.2 L592.0,-9.8Z" fill="#ffd900"/>
<path d="M627.0,-59.8 L637.0,-63.5 L642.0,-54.8 L632.0,-47.2 L624.5,-52.2Z" fill="#ffd900"/>
<path d="M619.5,57.8 L637.0,50.2 L662.0,47.8 L652.0,57.8 L637.0,62.8Z" fill="#ffd900"/>
<path d="M657.0,-17.2 L667.0,-21.0 L665.8,-16.0 L655.8,-13.5Z" fill="#ffd900"/>
<path d="M547.0,215.2 L567.0,205.2 L587.0,197.8 L607.0,190.2 L627.0,185.2 L617.0,197.8 L602.0,210.2 L587.0,222.8 L577.0,235.2 L562.0,232.8 L547.0,225.2Z" fill="#ffd900"/>
<path d="M532.0,262.8 L547.0,247.8 L567.0,242.8 L587.0,247.8 L607.0,242.8 L622.0,247.8 L617.0,262.8 L602.0,270.2 L582.0,272.8 L562.0,270.2 L542.0,272.8Z" fill="#ffd900"/>
<path d="M424.5,-27.2 L437.0,-42.2 L452.0,-52.2 L467.0,-54.8 L478.2,-44.8 L477.0,-29.8 L472.0,-17.2 L462.0,-7.2 L449.5,-4.8 L434.5,-14.8Z" fill="#ff9100"/>
<path d="M467.0,-77.2 L477.0,-87.2 L487.0,-84.8 L482.0,-72.2 L469.5,-69.8Z" fill="#ff9100"/>
<path d="M462.0,70.2 L477.0,61.5 L485.8,67.8 L474.5,76.5Z" fill="#ff9100"/>
<path d="M465.8,82.8 L479.5,76.5 L488.2,85.2 L477.0,94.0 L468.2,89.0Z" fill="#ff9100"/>
<path d="M475.8,95.2 L492.0,87.8 L495.0,93.2 L482.0,99.0Z" fill="#ff9100"/>
<path d="M397.0,152.8 L407.0,137.8 L419.5,132.8 L424.5,142.8 L417.0,155.2 L404.5,162.8Z" fill="#ff9100"/>
<path d="M454.5,49.0 L467.0,44.0 L464.5,51.5 L453.2,54.0Z" fill="#ff9100"/>
<path d="M342.0,140.2 L357.0,135.2 L364.5,145.2 L362.0,160.2 L357.0,177.8 L352.0,192.8 L349.5,207.8 L344.5,222.8 L332.0,230.2 L329.5,217.8 L317.0,212.8 L304.5,207.8 L314.5,197.8 L327.0,187.8 L334.5,177.8 L329.5,167.8 L334.5,155.2Z" fill="#ff9100"/>
<path d="M402.0,145.2 L414.5,135.2 L422.0,140.2 L414.5,152.8 L402.0,157.8Z" fill="#ff9100"/>
<path d="M104.5,247.8 L114.5,232.8 L127.0,220.2 L139.5,217.8 L144.5,227.8 L139.5,242.8 L129.5,252.8 L117.0,260.2 L104.5,260.2Z" fill="#ff9100"/>
<path d="M182.0,212.8 L192.0,202.8 L197.0,205.2 L189.5,215.2Z" fill="#ff9100"/>
<path d="M72.0,272.8 L92.0,265.2 L109.5,265.2 L127.0,266.5 L147.0,266.5 L162.0,270.2 L182.0,265.2 L197.0,256.5 L212.0,254.0 L219.5,261.5 L209.5,272.8 L197.0,282.8 L187.0,292.8 L182.0,305.2 L172.0,317.8 L164.5,332.8 L154.5,347.8 L167.0,352.8 L182.0,347.8 L192.0,337.8 L197.0,322.8 L202.0,310.2 L212.0,297.8 L222.0,292.8 L247.0,287.8 L254.5,277.8 L262.0,267.8 L272.0,259.0 L282.0,251.5 L297.0,249.0 L312.0,246.5 L327.0,241.5 L342.0,231.5 L357.0,221.5 L372.0,211.5 L387.0,201.5 L402.0,191.5 L417.0,181.5 L432.0,171.5 L447.0,164.0 L462.0,156.5 L480.0,149.0 L489.5,147.8 L502.0,162.8 L512.0,175.2 L527.0,185.2 L542.0,192.8 L545.8,212.8 L540.8,227.8 L547.0,235.2 L562.0,241.5 L577.0,245.2 L583.2,257.8 L572.0,270.2 L557.0,270.2 L542.0,265.2 L537.0,297.8 L465.0,520.0 L-50.0,520.0Z" fill="#ff9100"/>
<path d="M59.5,285.2 L84.5,285.2 L97.0,277.8 L122.0,270.2 L147.0,270.2 L167.0,272.8 L177.0,280.2 L184.5,290.2 L187.0,302.8 L177.0,312.8 L172.0,327.8 L162.0,340.2 L157.0,350.2 L167.0,355.2 L177.0,362.8 L184.5,372.8 L177.0,382.8 L169.5,395.2 L167.0,407.8 L164.5,447.8 L22.0,447.8 L22.0,285.2Z" fill="#de5238"/>
<path d="M204.5,447.8 L204.5,405.2 L207.0,390.2 L217.0,372.8 L222.0,360.2 L232.0,347.8 L242.0,337.8 L247.0,322.8 L252.0,310.2 L254.5,297.8 L257.0,287.8 L262.0,275.2 L272.0,265.2 L282.0,257.8 L297.0,255.2 L312.0,252.8 L327.0,247.8 L342.0,237.8 L357.0,227.8 L372.0,217.8 L387.0,207.8 L402.0,197.8 L417.0,187.8 L432.0,177.8 L447.0,170.2 L462.0,162.8 L480.0,155.2 L489.5,155.2 L497.0,167.8 L507.0,180.2 L522.0,190.2 L537.0,197.8 L539.5,212.8 L534.5,227.8 L542.0,237.8 L557.0,245.2 L572.0,247.8 L577.0,257.8 L567.0,265.2 L552.0,262.8 L537.0,257.8 L529.5,267.8 L527.0,297.8 L465.0,520.0Z" fill="#de5238"/>
<path d="M717.0,-52.2 L717.0,-22.2 L702.0,-14.8 L694.5,-2.2 L699.5,12.8 L709.5,27.8 L722.0,30.2 L717.0,42.8 L712.0,60.2 L714.5,72.8 L707.0,87.8 L702.0,102.8 L697.0,117.8 L692.0,132.8 L687.0,145.2 L679.5,152.8 L667.0,167.8 L652.0,182.8 L642.0,197.8 L632.0,207.8 L667.0,247.8 L817.0,247.8 L817.0,-52.2Z" fill="#de5238"/>
<path d="M724.5,32.8 L742.0,22.8 L767.0,14.0 L764.5,20.2 L747.0,30.2 L729.5,40.2Z" fill="#ff9100"/>
<path d="M704.5,-17.2 L714.5,-19.8 L712.0,-12.2 L702.0,-9.8Z" fill="#ff9100"/>
<path d="M429.5,-27.2 L442.0,-39.8 L457.0,-48.5 L474.5,-44.8 L472.0,-29.8 L462.0,-17.2 L447.0,-17.2 L434.5,-19.8Z" fill="#de5238"/>
<path d="M464.5,71.5 L475.8,64.8 L482.0,68.2 L473.2,74.0Z" fill="#de5238"/>
<path d="M469.5,84.0 L479.5,79.8 L485.0,85.2 L477.0,90.8Z" fill="#de5238"/>
<path d="M109.5,245.2 L119.5,232.8 L132.0,226.5 L137.0,235.2 L129.5,247.8 L117.0,254.0 L108.2,254.0Z" fill="#de5238"/>
<path d="M267.0,320.2 L282.0,307.8 L297.0,297.8 L317.0,292.8 L337.0,287.8 L349.5,280.2 L347.0,290.2 L332.0,297.8 L317.0,302.8 L302.0,310.2 L287.0,320.2Z" fill="#ff9100"/>
<path d="M279.5,315.2 L292.0,302.8 L312.0,297.8 L317.0,300.2 L302.0,307.8 L289.5,316.5Z" fill="#ffd900"/>
<path d="M317.0,317.8 L332.0,310.2 L339.5,312.8 L332.0,325.2 L327.0,337.8 L347.0,342.8 L337.0,352.8 L327.0,365.2 L317.0,372.8 L302.0,377.8 L297.0,387.8 L292.0,397.8 L287.0,387.8 L279.5,372.8 L277.0,367.8 L292.0,357.8 L302.0,345.2 L287.0,340.2 L297.0,332.8 L309.5,325.2Z" fill="#ff9100"/>
<path d="M317.0,325.2 L327.0,320.2 L324.5,332.8 L319.5,345.2 L329.5,347.8 L317.0,360.2 L304.5,370.2 L292.0,372.8 L292.0,365.2 L304.5,357.8 L309.5,347.8 L312.0,335.2Z" fill="#ffd900"/>
<path d="M197.0,290.2 L229.5,287.8 L255.8,287.8 L250.8,307.8 L245.8,322.8 L239.5,336.5 L224.5,349.0 L214.5,361.5 L204.5,374.0 L197.0,387.8 L202.0,397.8 L192.0,410.2 L182.0,417.8 L169.5,415.2 L172.0,397.8 L182.0,382.8 L172.0,367.8 L162.0,352.8 L172.0,335.2 L182.0,317.8 L187.0,302.8Z" fill="#ff9100"/>
<path d="M197.0,292.8 L227.0,290.2 L252.0,290.2 L247.0,307.8 L242.0,322.8 L237.0,335.2 L222.0,347.8 L212.0,360.2 L202.0,372.8 L192.0,385.2 L182.0,397.8 L177.0,392.8 L187.0,377.8 L197.0,362.8 L197.0,347.8 L187.0,337.8 L192.0,322.8 L197.0,307.8Z" fill="#ffd900"/>
<path d="M172.0,395.2 L192.0,387.8 L197.0,395.2 L187.0,405.2 L177.0,412.8 L169.5,410.2Z" fill="#ffd900"/>
<path d="M42.0,370.2 L52.0,370.2 L54.5,387.8 L52.0,402.8 L57.0,417.8 L59.5,427.8 L47.0,432.8 L37.0,422.8Z" fill="#ff9100"/>
<path d="M42.0,405.2 L48.2,402.8 L49.5,420.2 L43.2,422.8Z" fill="#ffd900"/>
<path d="M457.0,387.8 L472.0,382.8 L480.0,385.2 L497.0,397.8 L480.0,400.2 L462.0,395.2Z" fill="#ff9100"/>
<path d="M469.5,390.2 L480.0,389.0 L492.0,396.5 L480.0,397.8Z" fill="#ffd900"/>
<path d="M337.0,282.8 L349.5,279.0 L347.0,285.2 L335.8,287.2Z" fill="#ff9100"/>
</g>
</g>
<use href="#outlinePath" fill="none" stroke="#000" stroke-width="5.4" stroke-linejoin="round"/>
</g>
<path d="M1411.00,1020.75V1700.40M1637.50,1020.75V1700.40M1864.00,1020.75V1700.40M2090.50,1020.75V1700.40" fill="none" stroke="#777" stroke-width="2.1" stroke-dasharray="6.4 2.7"/>
<path d="M1262.50,1219.25H2284.30M1262.50,1507.55H2284.30" fill="none" stroke="#777" stroke-width="2.9" stroke-dasharray="6.4 2.7"/>
<rect x="1262.50" y="1020.75" width="1021.80" height="679.65" fill="none" stroke="#000" stroke-width="5.2"/>
<path d="M1411.00,1700.40v15.2M1637.50,1700.40v15.2M1864.00,1700.40v15.2M2090.50,1700.40v15.2M2284.30,1219.25h15.2M2284.30,1507.55h15.2" fill="none" stroke="#000" stroke-width="5" stroke-linecap="round"/>
<text x="1412.5" y="1762.8" text-anchor="middle" class="tk">107° E</text>
<text x="1639.0" y="1762.8" text-anchor="middle" class="tk">108° E</text>
<text x="1865.5" y="1762.8" text-anchor="middle" class="tk">109° E</text>
<text x="2092.0" y="1762.8" text-anchor="middle" class="tk">110° E</text>
<text x="2303.0" y="1236.8" text-anchor="start" class="tk">39° N</text>
<text x="2303.0" y="1525.0" text-anchor="start" class="tk">38° N</text>
<text x="1761.5" y="973.3" text-anchor="middle" class="ti">(c) Summer</text>
</g>
<g id="panel-d">
<g transform="translate(308.00,2107.00)">
<g clip-path="url(#clipOutline)">
<rect x="0" y="-200" width="840" height="680" fill="#00267a"/>
<g filter="url(#rough)" shape-rendering="crispEdges">
<rect x="-20" y="-220" width="880" height="720" fill="#00267a"/>
<path d="M641.1,-121.6 L641.1,-85.9 L628.5,-71.2 L611.7,-58.6 L594.9,-50.2 L578.1,-41.8 L569.7,-25.0 L573.9,-4.0 L578.1,12.8 L590.7,25.4 L603.3,33.8 L620.1,38.0 L628.5,46.4 L615.9,59.0 L607.5,71.6 L594.9,88.4 L578.1,101.1 L561.3,113.7 L548.7,130.5 L540.3,147.3 L548.7,164.1 L557.1,176.7 L544.5,185.1 L527.7,193.5 L515.1,185.1 L502.5,168.3 L494.1,155.7 L477.3,159.9 L460.5,168.3 L443.7,176.7 L426.9,185.1 L410.1,193.5 L393.3,206.1 L376.5,218.7 L359.7,231.3 L342.9,239.7 L326.1,248.1 L305.1,252.3 L284.0,256.5 L271.4,269.1 L258.8,281.7 L250.4,294.3 L242.0,306.9 L233.6,323.7 L225.2,340.5 L212.6,353.1 L200.0,357.3 L191.6,344.7 L200.0,327.9 L195.8,311.1 L191.6,294.3 L195.8,281.7 L187.4,273.3 L170.6,269.1 L149.6,269.1 L128.6,269.1 L107.6,264.9 L95.0,260.7 L48.8,264.9 L-50.0,520.0 L900.0,520.0 L900.0,-250.0Z" fill="#009196"/>
<path d="M599.1,-20.8 L611.7,-29.2 L624.3,-25.0 L620.1,-10.3 L603.3,-4.0 L594.9,-10.3Z" fill="#00267a"/>
<path d="M628.5,-43.9 L639.0,-48.1 L636.9,-42.6 L627.7,-39.7Z" fill="#00267a"/>
<path d="M628.5,19.1 L636.9,14.9 L634.8,20.4 L626.4,23.3Z" fill="#00267a"/>
<path d="M552.9,96.9 L578.1,80.0 L603.3,63.2 L620.1,46.4 L624.3,52.7 L603.3,75.8 L578.1,92.7 L557.1,107.4Z" fill="#00267a"/>
<path d="M342.9,141.0 L359.7,141.0 L363.9,159.9 L359.7,180.9 L355.5,201.9 L342.9,222.9 L326.1,233.4 L309.3,218.7 L300.9,210.3 L317.7,193.5 L330.3,172.5 L338.7,155.7Z" fill="#009196"/>
<path d="M401.7,151.5 L414.3,136.8 L424.8,138.9 L416.4,155.7 L401.7,159.9Z" fill="#009196"/>
<path d="M107.6,243.9 L120.2,225.0 L132.8,222.9 L137.0,235.5 L128.6,252.3 L107.6,262.8 L97.1,260.7Z" fill="#009196"/>
<path d="M431.1,-29.2 L447.9,-43.9 L468.9,-48.1 L477.3,-37.6 L468.9,-20.8 L452.1,-12.4 L435.3,-16.6Z" fill="#009196"/>
<path d="M464.7,75.8 L477.3,63.2 L489.9,75.8 L498.3,88.4 L485.7,96.9 L468.9,92.7Z" fill="#009196"/>
<path d="M515.1,99.0 L525.6,88.4 L531.9,92.7 L523.5,101.1Z" fill="#009196"/>
<path d="M452.1,49.8 L464.7,43.1 L471.0,45.6 L458.4,52.7Z" fill="#009196"/>
<path d="M187.4,264.9 L208.4,256.5 L221.0,260.7 L200.0,271.2Z" fill="#009196"/>
<path d="M475.2,-78.7 L483.6,-82.1 L485.7,-79.6 L477.3,-76.2Z" fill="#009196"/>
<path d="M557.1,75.8 L573.9,63.2 L586.5,61.1 L578.1,73.7 L561.3,84.2Z" fill="#009196"/>
<path d="M456.3,151.5 L468.9,143.1 L475.2,146.4 L462.6,155.7Z" fill="#009196"/>
<path d="M477.3,122.1 L487.8,117.0 L489.9,120.4 L479.4,125.4Z" fill="#009196"/>
<path d="M439.5,117.9 L447.9,112.8 L450.0,116.2 L441.6,121.2Z" fill="#009196"/>
<path d="M527.7,180.9 L548.7,164.1 L557.1,178.8 L544.5,187.2Z" fill="#009196"/>
<path d="M279.8,315.3 L290.3,311.1 L292.4,316.1 L281.9,320.3Z" fill="#00267a"/>
<path d="M300.9,367.8 L312.6,363.6 L313.5,369.1 L301.7,372.0Z" fill="#00267a"/>
<path d="M183.2,343.9 L195.0,340.5 L195.8,345.5 L184.1,348.1Z" fill="#00267a"/>
<path d="M200.0,298.5 L216.8,290.1 L221.0,306.9 L208.4,319.5 L197.9,315.3Z" fill="#00267a"/>
<path d="M502.5,164.1 L485.7,159.9 L468.9,164.1 L452.1,172.5 L435.3,180.9 L418.5,193.5 L401.7,206.1 L384.9,218.7 L368.1,231.3 L351.3,243.9 L334.5,252.3 L317.7,256.5 L305.1,264.9 L300.9,281.7 L317.7,290.1 L334.5,281.7 L351.3,290.1 L351.3,306.9 L342.9,323.7 L334.5,340.5 L334.5,361.5 L338.7,378.3 L326.1,390.9 L321.9,424.5 L452.1,424.5 L464.7,374.1 L468.9,290.1 L494.1,277.5 L531.9,264.9 L552.9,260.7 L569.7,252.3 L565.5,239.7 L544.5,227.1 L531.9,214.5 L527.7,197.7 L519.3,180.9Z" fill="#00c42b"/>
<path d="M208.4,374.1 L221.0,357.3 L237.8,344.7 L258.8,340.5 L275.6,348.9 L284.0,365.7 L279.8,382.5 L292.4,390.9 L326.1,390.9 L326.1,424.5 L191.6,424.5 L202.1,395.1Z" fill="#00c42b"/>
<path d="M48.8,294.3 L86.6,290.1 L116.0,290.1 L141.2,285.9 L158.0,290.1 L170.6,302.7 L166.4,319.5 L158.0,336.3 L162.2,353.1 L166.4,369.9 L158.0,386.7 L162.2,403.5 L158.0,437.1 L32.0,437.1 L32.0,294.3Z" fill="#00c42b"/>
<path d="M40.4,395.1 L57.2,386.7 L69.8,399.3 L74.0,416.1 L65.6,437.1 L32.0,437.1Z" fill="#009196"/>
<path d="M44.6,348.9 L61.4,344.7 L65.6,365.7 L57.2,386.7 L44.6,386.7Z" fill="#009196"/>
<path d="M250.4,302.7 L275.6,292.2 L300.9,290.1 L292.4,302.7 L267.2,311.1 L250.4,311.1Z" fill="#00c42b"/>
<path d="M439.5,-29.2 L452.1,-37.6 L466.8,-39.7 L468.9,-29.2 L452.1,-22.9 L441.6,-22.9Z" fill="#00c42b"/>
<path d="M699.9,130.5 L712.5,113.7 L725.1,117.9 L720.9,134.7 L704.1,143.1Z" fill="#00c42b"/>
<path d="M762.9,105.3 L779.7,99.0 L800.7,117.9 L788.1,117.9 L771.3,111.6Z" fill="#00c42b"/>
<path d="M670.5,172.5 L681.0,164.1 L687.3,170.4 L678.9,177.5Z" fill="#00c42b"/>
<path d="M687.3,180.9 L704.1,193.5 L725.1,206.1 L741.9,222.9 L733.5,218.7 L712.5,204.0 L691.5,189.3Z" fill="#00c42b"/>
<path d="M725.1,151.5 L737.7,159.9 L754.5,176.7 L762.9,180.9 L746.1,164.1 L733.5,151.5Z" fill="#00c42b"/>
<path d="M456.3,369.9 L477.3,365.7 L489.9,386.7 L506.7,407.7 L477.3,399.3 L456.3,390.9Z" fill="#009196"/>
<path d="M232.0,342.0 L247.0,322.0 L262.0,307.0 L282.0,297.0 L302.0,292.0 L322.0,289.5 L347.0,287.0 L357.0,292.0 L347.0,299.5 L322.0,303.2 L302.0,307.0 L282.0,313.2 L267.0,324.5 L252.0,339.5 L242.0,347.0Z" fill="#00c42b"/>
<path d="M272.0,315.8 L292.0,304.5 L317.0,298.2 L322.0,302.0 L299.5,309.5 L279.5,319.5Z" fill="#009196"/>
<path d="M277.0,314.0 L294.5,305.8 L299.5,307.0 L282.0,316.5Z" fill="#00267a"/>
<path d="M489.9,168.3 L473.1,172.5 L456.3,178.8 L439.5,189.3 L422.7,201.9 L405.9,214.5 L389.1,227.1 L372.3,239.7 L355.5,250.2 L334.5,256.5 L313.5,262.8 L309.3,277.5 L326.1,285.9 L347.1,281.7 L363.9,294.3 L359.7,311.1 L351.3,327.9 L347.1,344.7 L347.1,365.7 L351.3,382.5 L342.9,395.1 L351.3,424.5 L452.1,424.5 L460.5,374.1 L464.7,290.1 L494.1,269.1 L519.3,260.7 L515.1,239.7 L506.7,222.9 L510.9,206.1 L502.5,189.3Z" fill="#00ed00"/>
<path d="M86.6,298.5 L107.6,294.3 L132.8,298.5 L153.8,302.7 L158.0,315.3 L145.4,327.9 L128.6,336.3 L137.0,348.9 L153.8,357.3 L149.6,374.1 L132.8,386.7 L116.0,395.1 L95.0,403.5 L74.0,399.3 L69.8,382.5 L78.2,365.7 L69.8,348.9 L74.0,332.1 L78.2,315.3Z" fill="#00ed00"/>
<path d="M212.6,374.1 L225.2,357.3 L242.0,346.8 L258.8,344.7 L271.4,353.1 L279.8,369.9 L271.4,386.7 L258.8,395.1 L242.0,403.5 L221.0,411.9 L204.2,424.5 L206.3,395.1Z" fill="#00ed00"/>
<path d="M82.4,344.7 L116.0,338.4 L132.8,342.6 L107.6,353.1 L78.2,357.3Z" fill="#00c42b"/>
<path d="M95.0,369.9 L128.6,365.7 L141.2,372.0 L116.0,382.5 L90.8,382.5Z" fill="#00c42b"/>
<path d="M452.1,180.9 L468.9,176.7 L481.5,185.1 L485.7,197.7 L489.9,214.5 L494.1,231.3 L498.3,248.1 L494.1,264.9 L468.9,277.5 L462.6,290.1 L464.7,332.1 L456.3,365.7 L435.3,382.5 L410.1,386.7 L384.9,390.9 L359.7,386.7 L342.9,382.5 L351.3,365.7 L359.7,348.9 L363.9,332.1 L368.1,315.3 L363.9,298.5 L376.5,290.1 L393.3,281.7 L401.7,264.9 L397.5,248.1 L410.1,239.7 L418.5,227.1 L435.3,214.5 L426.9,201.9 L435.3,189.3Z" fill="#ffd900"/>
<path d="M317.7,269.1 L330.3,256.5 L347.1,252.3 L355.5,260.7 L342.9,273.3 L326.1,283.8 L313.5,281.7Z" fill="#ffd900"/>
<path d="M384.9,227.1 L397.5,210.3 L414.3,206.1 L410.1,222.9 L393.3,231.3Z" fill="#ffd900"/>
<path d="M216.8,378.3 L229.4,361.5 L246.2,351.0 L260.9,348.9 L267.2,359.4 L258.8,369.9 L242.0,374.1 L233.6,382.5 L250.4,386.7 L263.0,382.5 L271.4,390.9 L254.6,399.3 L233.6,407.7 L212.6,424.5 L208.4,399.3Z" fill="#ffd900"/>
<path d="M435.3,218.7 L452.1,206.1 L464.7,208.2 L452.1,220.8 L437.4,227.1Z" fill="#00ed00"/>
<path d="M376.5,325.8 L389.1,319.5 L393.3,324.5 L380.7,331.3Z" fill="#00ed00"/>
<path d="M426.9,338.4 L441.6,334.2 L443.7,339.7 L429.0,343.9Z" fill="#00ed00"/>
<path d="M437.5,197.5 L456.0,190.1 L474.6,195.7 L493.1,199.4 L489.4,206.8 L470.9,204.9 L452.3,208.6 L437.5,206.8Z" fill="#00ed00"/>
<path d="M433.8,230.9 L452.3,223.5 L465.3,227.2 L456.0,236.5 L437.5,242.0 L426.4,240.2Z" fill="#00ed00"/>
<path d="M470.9,214.2 L485.7,208.6 L493.1,214.2 L482.0,221.6 L470.9,223.5Z" fill="#00ed00"/>
<path d="M474.6,256.9 L491.3,249.5 L498.7,256.9 L489.4,268.0 L474.6,271.7Z" fill="#00ed00"/>
<path d="M411.5,256.9 L426.4,253.2 L424.5,262.4 L411.5,266.2Z" fill="#00ed00"/>
<path d="M430.1,340.3 L448.6,332.9 L459.8,336.6 L444.9,345.9 L430.1,347.8Z" fill="#00ed00"/>
<path d="M370.7,334.8 L385.6,331.1 L400.4,332.9 L393.0,340.3 L374.4,342.2Z" fill="#00ed00"/>
<path d="M321.9,273.3 L334.5,264.9 L342.9,267.0 L334.5,275.4 L324.0,279.6Z" fill="#ff9100"/>
<path d="M422.7,283.8 L433.2,273.3 L439.5,275.4 L431.1,286.7Z" fill="#ff9100"/>
<path d="M426.9,295.1 L438.6,290.1 L439.5,295.1 L429.0,298.5Z" fill="#ff9100"/>
<path d="M410.1,320.3 L420.6,317.4 L420.6,321.6 L410.9,323.7Z" fill="#ff9100"/>
<path d="M477.3,222.9 L485.7,218.7 L486.5,223.7 L478.1,227.1Z" fill="#ff9100"/>
<path d="M368.1,401.4 L373.1,393.0 L377.3,395.1 L374.4,404.3Z" fill="#ff9100"/>
<path d="M229.4,367.8 L237.8,358.1 L242.9,360.7 L235.7,370.7Z" fill="#ff9100"/>
<path d="M212.6,409.8 L218.9,395.9 L225.2,398.5 L221.0,412.8Z" fill="#ff9100"/>
<path d="M250.4,369.1 L258.8,365.7 L258.8,369.9 L251.3,372.4Z" fill="#ff9100"/>
<path d="M399.6,387.5 L403.8,384.6 L405.0,388.0Z" fill="#ff9100"/>
</g>
</g>
<use href="#outlinePath" fill="none" stroke="#000" stroke-width="5.4" stroke-linejoin="round"/>
</g>
<path d="M308.00,1909.50V2588.30M534.50,1909.50V2588.30M761.00,1909.50V2588.30M987.50,1909.50V2588.30" fill="none" stroke="#777" stroke-width="2.1" stroke-dasharray="6.4 2.7"/>
<path d="M155.50,2107.00H1177.50M155.50,2395.30H1177.50" fill="none" stroke="#777" stroke-width="2.1" stroke-dasharray="6.4 2.7"/>
<rect x="155.50" y="1909.50" width="1022.00" height="678.80" fill="none" stroke="#000" stroke-width="5.2"/>
<path d="M308.00,2588.30v15.2M534.50,2588.30v15.2M761.00,2588.30v15.2M987.50,2588.30v15.2M155.50,2107.00h-15.2M155.50,2395.30h-15.2" fill="none" stroke="#000" stroke-width="5" stroke-linecap="round"/>
<text x="309.5" y="2650.7" text-anchor="middle" class="tk">107° E</text>
<text x="536.0" y="2650.7" text-anchor="middle" class="tk">108° E</text>
<text x="762.5" y="2650.7" text-anchor="middle" class="tk">109° E</text>
<text x="989.0" y="2650.7" text-anchor="middle" class="tk">110° E</text>
<text x="136.8" y="2124.5" text-anchor="end" class="tk">39° N</text>
<text x="136.8" y="2412.8" text-anchor="end" class="tk">38° N</text>
<text x="666.5" y="1865.8" text-anchor="middle" class="ti">(d) Autumn</text>
</g>
<g id="panel-e">
<g transform="translate(1415.25,2119.40)">
<g clip-path="url(#clipOutline)">
<rect x="0" y="-200" width="840" height="680" fill="#00267a"/>
</g>
<use href="#outlinePath" fill="none" stroke="#000" stroke-width="5.4" stroke-linejoin="round"/>
</g>
<path d="M1415.25,1920.75V2600.20M1641.75,1920.75V2600.20M1868.25,1920.75V2600.20M2094.75,1920.75V2600.20" fill="none" stroke="#777" stroke-width="2.7" stroke-dasharray="6.4 2.7"/>
<path d="M1262.50,2119.40H2284.30M1262.50,2407.70H2284.30" fill="none" stroke="#777" stroke-width="2.7" stroke-dasharray="6.4 2.7"/>
<rect x="1262.50" y="1920.75" width="1021.80" height="679.45" fill="none" stroke="#000" stroke-width="5.2"/>
<path d="M1415.25,2600.20v15.2M1641.75,2600.20v15.2M1868.25,2600.20v15.2M2094.75,2600.20v15.2M2284.30,2119.40h15.2M2284.30,2407.70h15.2" fill="none" stroke="#000" stroke-width="5" stroke-linecap="round"/>
<text x="1416.8" y="2662.6" text-anchor="middle" class="tk">107° E</text>
<text x="1643.2" y="2662.6" text-anchor="middle" class="tk">108° E</text>
<text x="1869.8" y="2662.6" text-anchor="middle" class="tk">109° E</text>
<text x="2096.2" y="2662.6" text-anchor="middle" class="tk">110° E</text>
<text x="2303.0" y="2136.9" text-anchor="start" class="tk">39° N</text>
<text x="2303.0" y="2425.2" text-anchor="start" class="tk">38° N</text>
<text x="1774.5" y="1865.5" text-anchor="middle" class="ti">(e) Winter</text>
</g>
<g id="legend">
<text x="2127.3" y="75" text-anchor="middle" class="lt">ET</text>
<rect x="1970.75" y="129.00" width="148.5" height="74.3" fill="#de5238" stroke="#8c8c8c" stroke-width="3"/>
<text x="2144.5" y="187.0" class="ll">60–70</text>
<rect x="1970.75" y="230.00" width="148.5" height="74.3" fill="#ff9100" stroke="#8c8c8c" stroke-width="3"/>
<text x="2144.5" y="288.0" class="ll">50–60</text>
<rect x="1970.75" y="331.00" width="148.5" height="74.3" fill="#ffd900" stroke="#8c8c8c" stroke-width="3"/>
<text x="2144.5" y="388.8" class="ll">40–50</text>
<rect x="1970.75" y="431.70" width="148.5" height="74.3" fill="#00ed00" stroke="#8c8c8c" stroke-width="3"/>
<text x="2144.5" y="490.0" class="ll">30–40</text>
<rect x="1970.75" y="532.70" width="148.5" height="74.3" fill="#00c42b" stroke="#8c8c8c" stroke-width="3"/>
<text x="2144.5" y="590.5" class="ll">20–30</text>
<rect x="1970.75" y="633.70" width="148.5" height="74.3" fill="#009196" stroke="#8c8c8c" stroke-width="3"/>
<text x="2144.5" y="691.2" class="ll">10–20</text>
<rect x="1970.75" y="734.70" width="148.5" height="74.3" fill="#00267a" stroke="#8c8c8c" stroke-width="3"/>
<text x="2144.5" y="792.0" class="ll">0–10</text>
</g>
<g id="north"><text transform="translate(1571.5,482.5) scale(1,1.03)" x="0" y="0" text-anchor="middle" class="pm">±</text></g>
<g id="scalebar">
<path d="M1277.3,685V723.7H1683.3V685M1412.6,696V723.7M1547.9,696V723.7" fill="none" stroke="#000" stroke-width="4" stroke-linejoin="miter"/>
<text x="1277" y="658.2" text-anchor="middle" class="sb">0</text>
<text x="1480.3" y="658.2" text-anchor="middle" class="sb">100</text>
<text x="1683.5" y="658.2" text-anchor="middle" class="sb">200</text>
<text x="1701.5" y="725.3" class="sb">Km</text>
</g>
</svg>
</body>
</html>
